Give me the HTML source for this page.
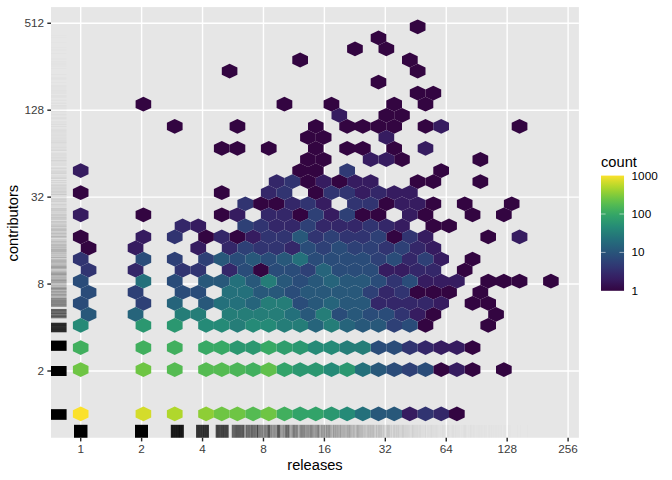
<!DOCTYPE html><html><head><meta charset="utf-8"><title>releases vs contributors</title>
<style>html,body{margin:0;padding:0;background:#fff}svg{display:block}text{font-family:"Liberation Sans",Arial,Helvetica,sans-serif}</style></head><body>
<svg width="672" height="480" viewBox="0 0 672 480">
<rect width="672" height="480" fill="#fff"/>
<rect x="51" y="7.1" width="527.9" height="430.65" fill="#e6e6e6"/>
<g stroke="#fff" stroke-width="1.42"><line x1="80.70" x2="80.70" y1="7.1" y2="437.75"/><line x1="141.62" x2="141.62" y1="7.1" y2="437.75"/><line x1="202.55" x2="202.55" y1="7.1" y2="437.75"/><line x1="263.47" x2="263.47" y1="7.1" y2="437.75"/><line x1="324.40" x2="324.40" y1="7.1" y2="437.75"/><line x1="385.32" x2="385.32" y1="7.1" y2="437.75"/><line x1="446.25" x2="446.25" y1="7.1" y2="437.75"/><line x1="507.17" x2="507.17" y1="7.1" y2="437.75"/><line x1="568.10" x2="568.10" y1="7.1" y2="437.75"/><line x1="51" x2="578.9" y1="371.01" y2="371.01"/><line x1="51" x2="578.9" y1="284.07" y2="284.07"/><line x1="51" x2="578.9" y1="197.13" y2="197.13"/><line x1="51" x2="578.9" y1="110.19" y2="110.19"/><line x1="51" x2="578.9" y1="23.25" y2="23.25"/></g>
<g id="hexes"><g fill="#330541"><polygon points="456.9,406.5 464.7,410.2 464.7,417.6 456.9,421.3 449.0,417.6 449.0,410.2"/><polygon points="441.2,362.3 449.0,366.0 449.0,373.3 441.2,377.0 433.3,373.3 433.3,366.0"/><polygon points="472.5,362.3 480.4,366.0 480.4,373.3 472.5,377.0 464.7,373.3 464.7,366.0"/><polygon points="503.9,362.3 511.7,366.0 511.7,373.3 503.9,377.0 496.0,373.3 496.0,366.0"/><polygon points="472.5,340.2 480.4,343.9 480.4,351.2 472.5,354.9 464.7,351.2 464.7,343.9"/><polygon points="425.5,318.0 433.3,321.7 433.3,329.1 425.5,332.8 417.7,329.1 417.7,321.7"/><polygon points="488.2,318.0 496.0,321.7 496.0,329.1 488.2,332.8 480.4,329.1 480.4,321.7"/><polygon points="433.3,307.0 441.2,310.7 441.2,318.0 433.3,321.7 425.5,318.0 425.5,310.7"/><polygon points="496.0,307.0 503.9,310.7 503.9,318.0 496.0,321.7 488.2,318.0 488.2,310.7"/><polygon points="472.5,295.9 480.4,299.6 480.4,307.0 472.5,310.7 464.7,307.0 464.7,299.6"/><polygon points="488.2,295.9 496.0,299.6 496.0,307.0 488.2,310.7 480.4,307.0 480.4,299.6"/><polygon points="417.7,284.9 425.5,288.6 425.5,295.9 417.7,299.6 409.8,295.9 409.8,288.6"/><polygon points="433.3,284.9 441.2,288.6 441.2,295.9 433.3,299.6 425.5,295.9 425.5,288.6"/><polygon points="449.0,284.9 456.9,288.6 456.9,295.9 449.0,299.6 441.2,295.9 441.2,288.6"/><polygon points="480.4,284.9 488.2,288.6 488.2,295.9 480.4,299.6 472.5,295.9 472.5,288.6"/><polygon points="488.2,273.8 496.0,277.5 496.0,284.9 488.2,288.6 480.4,284.9 480.4,277.5"/><polygon points="503.9,273.8 511.7,277.5 511.7,284.9 503.9,288.6 496.0,284.9 496.0,277.5"/><polygon points="519.5,273.8 527.4,277.5 527.4,284.9 519.5,288.6 511.7,284.9 511.7,277.5"/><polygon points="550.9,273.8 558.7,277.5 558.7,284.9 550.9,288.6 543.1,284.9 543.1,277.5"/><polygon points="260.9,262.7 268.8,266.4 268.8,273.8 260.9,277.5 253.1,273.8 253.1,266.4"/><polygon points="464.7,262.7 472.5,266.4 472.5,273.8 464.7,277.5 456.9,273.8 456.9,266.4"/><polygon points="472.5,251.7 480.4,255.4 480.4,262.7 472.5,266.4 464.7,262.7 464.7,255.4"/><polygon points="88.5,240.6 96.4,244.3 96.4,251.7 88.5,255.4 80.7,251.7 80.7,244.3"/><polygon points="80.7,229.6 88.5,233.3 88.5,240.6 80.7,244.3 72.9,240.6 72.9,233.3"/><polygon points="206.1,229.6 213.9,233.3 213.9,240.6 206.1,244.3 198.2,240.6 198.2,233.3"/><polygon points="237.4,229.6 245.3,233.3 245.3,240.6 237.4,244.3 229.6,240.6 229.6,233.3"/><polygon points="394.2,229.6 402.0,233.3 402.0,240.6 394.2,244.3 386.3,240.6 386.3,233.3"/><polygon points="488.2,229.6 496.0,233.3 496.0,240.6 488.2,244.3 480.4,240.6 480.4,233.3"/><polygon points="433.3,218.5 441.2,222.2 441.2,229.6 433.3,233.3 425.5,229.6 425.5,222.2"/><polygon points="449.0,218.5 456.9,222.2 456.9,229.6 449.0,233.3 441.2,229.6 441.2,222.2"/><polygon points="143.4,207.4 151.2,211.1 151.2,218.5 143.4,222.2 135.6,218.5 135.6,211.1"/><polygon points="221.8,207.4 229.6,211.1 229.6,218.5 221.8,222.2 213.9,218.5 213.9,211.1"/><polygon points="300.1,207.4 308.0,211.1 308.0,218.5 300.1,222.2 292.3,218.5 292.3,211.1"/><polygon points="362.8,207.4 370.7,211.1 370.7,218.5 362.8,222.2 355.0,218.5 355.0,211.1"/><polygon points="378.5,207.4 386.3,211.1 386.3,218.5 378.5,222.2 370.7,218.5 370.7,211.1"/><polygon points="425.5,207.4 433.3,211.1 433.3,218.5 425.5,222.2 417.7,218.5 417.7,211.1"/><polygon points="472.5,207.4 480.4,211.1 480.4,218.5 472.5,222.2 464.7,218.5 464.7,211.1"/><polygon points="503.9,207.4 511.7,211.1 511.7,218.5 503.9,222.2 496.0,218.5 496.0,211.1"/><polygon points="260.9,196.4 268.8,200.1 268.8,207.4 260.9,211.1 253.1,207.4 253.1,200.1"/><polygon points="276.6,196.4 284.4,200.1 284.4,207.4 276.6,211.1 268.8,207.4 268.8,200.1"/><polygon points="386.3,196.4 394.2,200.1 394.2,207.4 386.3,211.1 378.5,207.4 378.5,200.1"/><polygon points="433.3,196.4 441.2,200.1 441.2,207.4 433.3,211.1 425.5,207.4 425.5,200.1"/><polygon points="464.7,196.4 472.5,200.1 472.5,207.4 464.7,211.1 456.9,207.4 456.9,200.1"/><polygon points="511.7,196.4 519.5,200.1 519.5,207.4 511.7,211.1 503.9,207.4 503.9,200.1"/><polygon points="80.7,185.3 88.5,189.0 88.5,196.4 80.7,200.1 72.9,196.4 72.9,189.0"/><polygon points="221.8,185.3 229.6,189.0 229.6,196.4 221.8,200.1 213.9,196.4 213.9,189.0"/><polygon points="315.8,185.3 323.6,189.0 323.6,196.4 315.8,200.1 308.0,196.4 308.0,189.0"/><polygon points="308.0,174.3 315.8,178.0 315.8,185.3 308.0,189.0 300.1,185.3 300.1,178.0"/><polygon points="339.3,174.3 347.1,178.0 347.1,185.3 339.3,189.0 331.5,185.3 331.5,178.0"/><polygon points="417.7,174.3 425.5,178.0 425.5,185.3 417.7,189.0 409.8,185.3 409.8,178.0"/><polygon points="433.3,174.3 441.2,178.0 441.2,185.3 433.3,189.0 425.5,185.3 425.5,178.0"/><polygon points="480.4,174.3 488.2,178.0 488.2,185.3 480.4,189.0 472.5,185.3 472.5,178.0"/><polygon points="300.1,163.2 308.0,166.9 308.0,174.3 300.1,178.0 292.3,174.3 292.3,166.9"/><polygon points="315.8,163.2 323.6,166.9 323.6,174.3 315.8,178.0 308.0,174.3 308.0,166.9"/><polygon points="441.2,163.2 449.0,166.9 449.0,174.3 441.2,178.0 433.3,174.3 433.3,166.9"/><polygon points="308.0,152.1 315.8,155.8 315.8,163.2 308.0,166.9 300.1,163.2 300.1,155.8"/><polygon points="323.6,152.1 331.5,155.8 331.5,163.2 323.6,166.9 315.8,163.2 315.8,155.8"/><polygon points="402.0,152.1 409.8,155.8 409.8,163.2 402.0,166.9 394.2,163.2 394.2,155.8"/><polygon points="480.4,152.1 488.2,155.8 488.2,163.2 480.4,166.9 472.5,163.2 472.5,155.8"/><polygon points="221.8,141.1 229.6,144.8 229.6,152.1 221.8,155.8 213.9,152.1 213.9,144.8"/><polygon points="237.4,141.1 245.3,144.8 245.3,152.1 237.4,155.8 229.6,152.1 229.6,144.8"/><polygon points="268.8,141.1 276.6,144.8 276.6,152.1 268.8,155.8 260.9,152.1 260.9,144.8"/><polygon points="315.8,141.1 323.6,144.8 323.6,152.1 315.8,155.8 308.0,152.1 308.0,144.8"/><polygon points="347.1,141.1 355.0,144.8 355.0,152.1 347.1,155.8 339.3,152.1 339.3,144.8"/><polygon points="362.8,141.1 370.7,144.8 370.7,152.1 362.8,155.8 355.0,152.1 355.0,144.8"/><polygon points="394.2,141.1 402.0,144.8 402.0,152.1 394.2,155.8 386.3,152.1 386.3,144.8"/><polygon points="308.0,130.0 315.8,133.7 315.8,141.1 308.0,144.8 300.1,141.1 300.1,133.7"/><polygon points="323.6,130.0 331.5,133.7 331.5,141.1 323.6,144.8 315.8,141.1 315.8,133.7"/><polygon points="174.7,119.0 182.6,122.7 182.6,130.0 174.7,133.7 166.9,130.0 166.9,122.7"/><polygon points="237.4,119.0 245.3,122.7 245.3,130.0 237.4,133.7 229.6,130.0 229.6,122.7"/><polygon points="315.8,119.0 323.6,122.7 323.6,130.0 315.8,133.7 308.0,130.0 308.0,122.7"/><polygon points="347.1,119.0 355.0,122.7 355.0,130.0 347.1,133.7 339.3,130.0 339.3,122.7"/><polygon points="362.8,119.0 370.7,122.7 370.7,130.0 362.8,133.7 355.0,130.0 355.0,122.7"/><polygon points="378.5,119.0 386.3,122.7 386.3,130.0 378.5,133.7 370.7,130.0 370.7,122.7"/><polygon points="394.2,119.0 402.0,122.7 402.0,130.0 394.2,133.7 386.3,130.0 386.3,122.7"/><polygon points="425.5,119.0 433.3,122.7 433.3,130.0 425.5,133.7 417.7,130.0 417.7,122.7"/><polygon points="519.5,119.0 527.4,122.7 527.4,130.0 519.5,133.7 511.7,130.0 511.7,122.7"/><polygon points="386.3,107.9 394.2,111.6 394.2,119.0 386.3,122.7 378.5,119.0 378.5,111.6"/><polygon points="402.0,107.9 409.8,111.6 409.8,119.0 402.0,122.7 394.2,119.0 394.2,111.6"/><polygon points="143.4,96.8 151.2,100.5 151.2,107.9 143.4,111.6 135.6,107.9 135.6,100.5"/><polygon points="284.4,96.8 292.3,100.5 292.3,107.9 284.4,111.6 276.6,107.9 276.6,100.5"/><polygon points="331.5,96.8 339.3,100.5 339.3,107.9 331.5,111.6 323.6,107.9 323.6,100.5"/><polygon points="394.2,96.8 402.0,100.5 402.0,107.9 394.2,111.6 386.3,107.9 386.3,100.5"/><polygon points="425.5,96.8 433.3,100.5 433.3,107.9 425.5,111.6 417.7,107.9 417.7,100.5"/><polygon points="417.7,85.8 425.5,89.5 425.5,96.8 417.7,100.5 409.8,96.8 409.8,89.5"/><polygon points="433.3,85.8 441.2,89.5 441.2,96.8 433.3,100.5 425.5,96.8 425.5,89.5"/><polygon points="378.5,74.7 386.3,78.4 386.3,85.8 378.5,89.5 370.7,85.8 370.7,78.4"/><polygon points="229.6,63.7 237.4,67.4 237.4,74.7 229.6,78.4 221.8,74.7 221.8,67.4"/><polygon points="417.7,63.7 425.5,67.4 425.5,74.7 417.7,78.4 409.8,74.7 409.8,67.4"/><polygon points="300.1,52.6 308.0,56.3 308.0,63.7 300.1,67.4 292.3,63.7 292.3,56.3"/><polygon points="409.8,52.6 417.7,56.3 417.7,63.7 409.8,67.4 402.0,63.7 402.0,56.3"/><polygon points="355.0,41.5 362.8,45.2 362.8,52.6 355.0,56.3 347.1,52.6 347.1,45.2"/><polygon points="386.3,41.5 394.2,45.2 394.2,52.6 386.3,56.3 378.5,52.6 378.5,45.2"/><polygon points="378.5,30.5 386.3,34.2 386.3,41.5 378.5,45.2 370.7,41.5 370.7,34.2"/><polygon points="417.7,19.4 425.5,23.1 425.5,30.5 417.7,34.2 409.8,30.5 409.8,23.1"/></g><g fill="#361c60"><polygon points="409.8,406.5 417.7,410.2 417.7,417.6 409.8,421.3 402.0,417.6 402.0,410.2"/><polygon points="456.9,362.3 464.7,366.0 464.7,373.3 456.9,377.0 449.0,373.3 449.0,366.0"/><polygon points="441.2,340.2 449.0,343.9 449.0,351.2 441.2,354.9 433.3,351.2 433.3,343.9"/><polygon points="456.9,340.2 464.7,343.9 464.7,351.2 456.9,354.9 449.0,351.2 449.0,343.9"/><polygon points="417.7,307.0 425.5,310.7 425.5,318.0 417.7,321.7 409.8,318.0 409.8,310.7"/><polygon points="441.2,295.9 449.0,299.6 449.0,307.0 441.2,310.7 433.3,307.0 433.3,299.6"/><polygon points="425.5,273.8 433.3,277.5 433.3,284.9 425.5,288.6 417.7,284.9 417.7,277.5"/><polygon points="441.2,273.8 449.0,277.5 449.0,284.9 441.2,288.6 433.3,284.9 433.3,277.5"/><polygon points="456.9,273.8 464.7,277.5 464.7,284.9 456.9,288.6 449.0,284.9 449.0,277.5"/><polygon points="386.3,262.7 394.2,266.4 394.2,273.8 386.3,277.5 378.5,273.8 378.5,266.4"/><polygon points="402.0,262.7 409.8,266.4 409.8,273.8 402.0,277.5 394.2,273.8 394.2,266.4"/><polygon points="441.2,251.7 449.0,255.4 449.0,262.7 441.2,266.4 433.3,262.7 433.3,255.4"/><polygon points="135.6,240.6 143.4,244.3 143.4,251.7 135.6,255.4 127.7,251.7 127.7,244.3"/><polygon points="198.2,240.6 206.1,244.3 206.1,251.7 198.2,255.4 190.4,251.7 190.4,244.3"/><polygon points="433.3,240.6 441.2,244.3 441.2,251.7 433.3,255.4 425.5,251.7 425.5,244.3"/><polygon points="143.4,229.6 151.2,233.3 151.2,240.6 143.4,244.3 135.6,240.6 135.6,233.3"/><polygon points="253.1,229.6 260.9,233.3 260.9,240.6 253.1,244.3 245.3,240.6 245.3,233.3"/><polygon points="425.5,229.6 433.3,233.3 433.3,240.6 425.5,244.3 417.7,240.6 417.7,233.3"/><polygon points="519.5,229.6 527.4,233.3 527.4,240.6 519.5,244.3 511.7,240.6 511.7,233.3"/><polygon points="198.2,218.5 206.1,222.2 206.1,229.6 198.2,233.3 190.4,229.6 190.4,222.2"/><polygon points="402.0,218.5 409.8,222.2 409.8,229.6 402.0,233.3 394.2,229.6 394.2,222.2"/><polygon points="80.7,207.4 88.5,211.1 88.5,218.5 80.7,222.2 72.9,218.5 72.9,211.1"/><polygon points="237.4,207.4 245.3,211.1 245.3,218.5 237.4,222.2 229.6,218.5 229.6,211.1"/><polygon points="331.5,207.4 339.3,211.1 339.3,218.5 331.5,222.2 323.6,218.5 323.6,211.1"/><polygon points="409.8,207.4 417.7,211.1 417.7,218.5 409.8,222.2 402.0,218.5 402.0,211.1"/><polygon points="323.6,196.4 331.5,200.1 331.5,207.4 323.6,211.1 315.8,207.4 315.8,200.1"/><polygon points="402.0,196.4 409.8,200.1 409.8,207.4 402.0,211.1 394.2,207.4 394.2,200.1"/><polygon points="417.7,196.4 425.5,200.1 425.5,207.4 417.7,211.1 409.8,207.4 409.8,200.1"/><polygon points="362.8,185.3 370.7,189.0 370.7,196.4 362.8,200.1 355.0,196.4 355.0,189.0"/><polygon points="394.2,185.3 402.0,189.0 402.0,196.4 394.2,200.1 386.3,196.4 386.3,189.0"/><polygon points="409.8,185.3 417.7,189.0 417.7,196.4 409.8,200.1 402.0,196.4 402.0,189.0"/><polygon points="323.6,174.3 331.5,178.0 331.5,185.3 323.6,189.0 315.8,185.3 315.8,178.0"/><polygon points="355.0,174.3 362.8,178.0 362.8,185.3 355.0,189.0 347.1,185.3 347.1,178.0"/><polygon points="370.7,174.3 378.5,178.0 378.5,185.3 370.7,189.0 362.8,185.3 362.8,178.0"/><polygon points="80.7,163.2 88.5,166.9 88.5,174.3 80.7,178.0 72.9,174.3 72.9,166.9"/><polygon points="370.7,152.1 378.5,155.8 378.5,163.2 370.7,166.9 362.8,163.2 362.8,155.8"/><polygon points="386.3,152.1 394.2,155.8 394.2,163.2 386.3,166.9 378.5,163.2 378.5,155.8"/><polygon points="425.5,141.1 433.3,144.8 433.3,152.1 425.5,155.8 417.7,152.1 417.7,144.8"/><polygon points="386.3,130.0 394.2,133.7 394.2,141.1 386.3,144.8 378.5,141.1 378.5,133.7"/><polygon points="441.2,119.0 449.0,122.7 449.0,130.0 441.2,133.7 433.3,130.0 433.3,122.7"/><polygon points="339.3,107.9 347.1,111.6 347.1,119.0 339.3,122.7 331.5,119.0 331.5,111.6"/></g><g fill="#342769"><polygon points="441.2,406.5 449.0,410.2 449.0,417.6 441.2,421.3 433.3,417.6 433.3,410.2"/><polygon points="425.5,340.2 433.3,343.9 433.3,351.2 425.5,354.9 417.7,351.2 417.7,343.9"/><polygon points="378.5,295.9 386.3,299.6 386.3,307.0 378.5,310.7 370.7,307.0 370.7,299.6"/><polygon points="394.2,295.9 402.0,299.6 402.0,307.0 394.2,310.7 386.3,307.0 386.3,299.6"/><polygon points="409.8,295.9 417.7,299.6 417.7,307.0 409.8,310.7 402.0,307.0 402.0,299.6"/><polygon points="425.5,295.9 433.3,299.6 433.3,307.0 425.5,310.7 417.7,307.0 417.7,299.6"/><polygon points="386.3,284.9 394.2,288.6 394.2,295.9 386.3,299.6 378.5,295.9 378.5,288.6"/><polygon points="135.6,262.7 143.4,266.4 143.4,273.8 135.6,277.5 127.7,273.8 127.7,266.4"/><polygon points="229.6,262.7 237.4,266.4 237.4,273.8 229.6,277.5 221.8,273.8 221.8,266.4"/><polygon points="417.7,262.7 425.5,266.4 425.5,273.8 417.7,277.5 409.8,273.8 409.8,266.4"/><polygon points="433.3,262.7 441.2,266.4 441.2,273.8 433.3,277.5 425.5,273.8 425.5,266.4"/><polygon points="409.8,251.7 417.7,255.4 417.7,262.7 409.8,266.4 402.0,262.7 402.0,255.4"/><polygon points="229.6,240.6 237.4,244.3 237.4,251.7 229.6,255.4 221.8,251.7 221.8,244.3"/><polygon points="292.3,240.6 300.1,244.3 300.1,251.7 292.3,255.4 284.4,251.7 284.4,244.3"/><polygon points="417.7,240.6 425.5,244.3 425.5,251.7 417.7,255.4 409.8,251.7 409.8,244.3"/><polygon points="221.8,229.6 229.6,233.3 229.6,240.6 221.8,244.3 213.9,240.6 213.9,233.3"/><polygon points="182.6,218.5 190.4,222.2 190.4,229.6 182.6,233.3 174.7,229.6 174.7,222.2"/><polygon points="276.6,218.5 284.4,222.2 284.4,229.6 276.6,233.3 268.8,229.6 268.8,222.2"/><polygon points="292.3,218.5 300.1,222.2 300.1,229.6 292.3,233.3 284.4,229.6 284.4,222.2"/><polygon points="323.6,218.5 331.5,222.2 331.5,229.6 323.6,233.3 315.8,229.6 315.8,222.2"/><polygon points="339.3,218.5 347.1,222.2 347.1,229.6 339.3,233.3 331.5,229.6 331.5,222.2"/><polygon points="355.0,218.5 362.8,222.2 362.8,229.6 355.0,233.3 347.1,229.6 347.1,222.2"/><polygon points="386.3,218.5 394.2,222.2 394.2,229.6 386.3,233.3 378.5,229.6 378.5,222.2"/><polygon points="268.8,207.4 276.6,211.1 276.6,218.5 268.8,222.2 260.9,218.5 260.9,211.1"/><polygon points="284.4,207.4 292.3,211.1 292.3,218.5 284.4,222.2 276.6,218.5 276.6,211.1"/><polygon points="292.3,196.4 300.1,200.1 300.1,207.4 292.3,211.1 284.4,207.4 284.4,200.1"/><polygon points="268.8,185.3 276.6,189.0 276.6,196.4 268.8,200.1 260.9,196.4 260.9,189.0"/><polygon points="378.5,185.3 386.3,189.0 386.3,196.4 378.5,200.1 370.7,196.4 370.7,189.0"/><polygon points="276.6,174.3 284.4,178.0 284.4,185.3 276.6,189.0 268.8,185.3 268.8,178.0"/></g><g fill="#313471"><polygon points="425.5,406.5 433.3,410.2 433.3,417.6 425.5,421.3 417.7,417.6 417.7,410.2"/><polygon points="409.8,340.2 417.7,343.9 417.7,351.2 409.8,354.9 402.0,351.2 402.0,343.9"/><polygon points="402.0,307.0 409.8,310.7 409.8,318.0 402.0,321.7 394.2,318.0 394.2,310.7"/><polygon points="402.0,284.9 409.8,288.6 409.8,295.9 402.0,299.6 394.2,295.9 394.2,288.6"/><polygon points="394.2,273.8 402.0,277.5 402.0,284.9 394.2,288.6 386.3,284.9 386.3,277.5"/><polygon points="88.5,262.7 96.4,266.4 96.4,273.8 88.5,277.5 80.7,273.8 80.7,266.4"/><polygon points="182.6,262.7 190.4,266.4 190.4,273.8 182.6,277.5 174.7,273.8 174.7,266.4"/><polygon points="198.2,262.7 206.1,266.4 206.1,273.8 198.2,277.5 190.4,273.8 190.4,266.4"/><polygon points="80.7,251.7 88.5,255.4 88.5,262.7 80.7,266.4 72.9,262.7 72.9,255.4"/><polygon points="260.9,240.6 268.8,244.3 268.8,251.7 260.9,255.4 253.1,251.7 253.1,244.3"/><polygon points="276.6,240.6 284.4,244.3 284.4,251.7 276.6,255.4 268.8,251.7 268.8,244.3"/><polygon points="386.3,240.6 394.2,244.3 394.2,251.7 386.3,255.4 378.5,251.7 378.5,244.3"/><polygon points="174.7,229.6 182.6,233.3 182.6,240.6 174.7,244.3 166.9,240.6 166.9,233.3"/><polygon points="268.8,229.6 276.6,233.3 276.6,240.6 268.8,244.3 260.9,240.6 260.9,233.3"/><polygon points="284.4,229.6 292.3,233.3 292.3,240.6 284.4,244.3 276.6,240.6 276.6,233.3"/><polygon points="315.8,229.6 323.6,233.3 323.6,240.6 315.8,244.3 308.0,240.6 308.0,233.3"/><polygon points="347.1,229.6 355.0,233.3 355.0,240.6 347.1,244.3 339.3,240.6 339.3,233.3"/><polygon points="362.8,229.6 370.7,233.3 370.7,240.6 362.8,244.3 355.0,240.6 355.0,233.3"/><polygon points="409.8,229.6 417.7,233.3 417.7,240.6 409.8,244.3 402.0,240.6 402.0,233.3"/><polygon points="260.9,218.5 268.8,222.2 268.8,229.6 260.9,233.3 253.1,229.6 253.1,222.2"/><polygon points="370.7,218.5 378.5,222.2 378.5,229.6 370.7,233.3 362.8,229.6 362.8,222.2"/><polygon points="245.3,196.4 253.1,200.1 253.1,207.4 245.3,211.1 237.4,207.4 237.4,200.1"/><polygon points="308.0,196.4 315.8,200.1 315.8,207.4 308.0,211.1 300.1,207.4 300.1,200.1"/><polygon points="355.0,196.4 362.8,200.1 362.8,207.4 355.0,211.1 347.1,207.4 347.1,200.1"/><polygon points="370.7,196.4 378.5,200.1 378.5,207.4 370.7,211.1 362.8,207.4 362.8,200.1"/><polygon points="284.4,185.3 292.3,189.0 292.3,196.4 284.4,200.1 276.6,196.4 276.6,189.0"/><polygon points="331.5,185.3 339.3,189.0 339.3,196.4 331.5,200.1 323.6,196.4 323.6,189.0"/><polygon points="347.1,185.3 355.0,189.0 355.0,196.4 347.1,200.1 339.3,196.4 339.3,189.0"/><polygon points="292.3,174.3 300.1,178.0 300.1,185.3 292.3,189.0 284.4,185.3 284.4,178.0"/></g><g fill="#303a75"><polygon points="347.1,163.2 355.0,166.9 355.0,174.3 347.1,178.0 339.3,174.3 339.3,166.9"/></g><g fill="#2e4076"><polygon points="409.8,362.3 417.7,366.0 417.7,373.3 409.8,377.0 402.0,373.3 402.0,366.0"/><polygon points="394.2,318.0 402.0,321.7 402.0,329.1 394.2,332.8 386.3,329.1 386.3,321.7"/><polygon points="143.4,295.9 151.2,299.6 151.2,307.0 143.4,310.7 135.6,307.0 135.6,299.6"/><polygon points="135.6,284.9 143.4,288.6 143.4,295.9 135.6,299.6 127.7,295.9 127.7,288.6"/><polygon points="370.7,284.9 378.5,288.6 378.5,295.9 370.7,299.6 362.8,295.9 362.8,288.6"/><polygon points="308.0,262.7 315.8,266.4 315.8,273.8 308.0,277.5 300.1,273.8 300.1,266.4"/><polygon points="174.7,251.7 182.6,255.4 182.6,262.7 174.7,266.4 166.9,262.7 166.9,255.4"/><polygon points="206.1,251.7 213.9,255.4 213.9,262.7 206.1,266.4 198.2,262.7 198.2,255.4"/><polygon points="378.5,251.7 386.3,255.4 386.3,262.7 378.5,266.4 370.7,262.7 370.7,255.4"/><polygon points="425.5,251.7 433.3,255.4 433.3,262.7 425.5,266.4 417.7,262.7 417.7,255.4"/><polygon points="245.3,240.6 253.1,244.3 253.1,251.7 245.3,255.4 237.4,251.7 237.4,244.3"/><polygon points="323.6,240.6 331.5,244.3 331.5,251.7 323.6,255.4 315.8,251.7 315.8,244.3"/><polygon points="355.0,240.6 362.8,244.3 362.8,251.7 355.0,255.4 347.1,251.7 347.1,244.3"/><polygon points="370.7,240.6 378.5,244.3 378.5,251.7 370.7,255.4 362.8,251.7 362.8,244.3"/><polygon points="402.0,240.6 409.8,244.3 409.8,251.7 402.0,255.4 394.2,251.7 394.2,244.3"/><polygon points="331.5,229.6 339.3,233.3 339.3,240.6 331.5,244.3 323.6,240.6 323.6,233.3"/><polygon points="378.5,229.6 386.3,233.3 386.3,240.6 378.5,244.3 370.7,240.6 370.7,233.3"/><polygon points="245.3,218.5 253.1,222.2 253.1,229.6 245.3,233.3 237.4,229.6 237.4,222.2"/><polygon points="308.0,218.5 315.8,222.2 315.8,229.6 308.0,233.3 300.1,229.6 300.1,222.2"/><polygon points="315.8,207.4 323.6,211.1 323.6,218.5 315.8,222.2 308.0,218.5 308.0,211.1"/><polygon points="347.1,207.4 355.0,211.1 355.0,218.5 347.1,222.2 339.3,218.5 339.3,211.1"/></g><g fill="#2a4c79"><polygon points="394.2,362.3 402.0,366.0 402.0,373.3 394.2,377.0 386.3,373.3 386.3,366.0"/><polygon points="425.5,362.3 433.3,366.0 433.3,373.3 425.5,377.0 417.7,373.3 417.7,366.0"/><polygon points="378.5,340.2 386.3,343.9 386.3,351.2 378.5,354.9 370.7,351.2 370.7,343.9"/><polygon points="394.2,340.2 402.0,343.9 402.0,351.2 394.2,354.9 386.3,351.2 386.3,343.9"/><polygon points="409.8,318.0 417.7,321.7 417.7,329.1 409.8,332.8 402.0,329.1 402.0,321.7"/><polygon points="339.3,307.0 347.1,310.7 347.1,318.0 339.3,321.7 331.5,318.0 331.5,310.7"/><polygon points="370.7,307.0 378.5,310.7 378.5,318.0 370.7,321.7 362.8,318.0 362.8,310.7"/><polygon points="386.3,307.0 394.2,310.7 394.2,318.0 386.3,321.7 378.5,318.0 378.5,310.7"/><polygon points="80.7,295.9 88.5,299.6 88.5,307.0 80.7,310.7 72.9,307.0 72.9,299.6"/><polygon points="300.1,295.9 308.0,299.6 308.0,307.0 300.1,310.7 292.3,307.0 292.3,299.6"/><polygon points="88.5,284.9 96.4,288.6 96.4,295.9 88.5,299.6 80.7,295.9 80.7,288.6"/><polygon points="182.6,284.9 190.4,288.6 190.4,295.9 182.6,299.6 174.7,295.9 174.7,288.6"/><polygon points="198.2,284.9 206.1,288.6 206.1,295.9 198.2,299.6 190.4,295.9 190.4,288.6"/><polygon points="292.3,284.9 300.1,288.6 300.1,295.9 292.3,299.6 284.4,295.9 284.4,288.6"/><polygon points="80.7,273.8 88.5,277.5 88.5,284.9 80.7,288.6 72.9,284.9 72.9,277.5"/><polygon points="174.7,273.8 182.6,277.5 182.6,284.9 174.7,288.6 166.9,284.9 166.9,277.5"/><polygon points="300.1,273.8 308.0,277.5 308.0,284.9 300.1,288.6 292.3,284.9 292.3,277.5"/><polygon points="378.5,273.8 386.3,277.5 386.3,284.9 378.5,288.6 370.7,284.9 370.7,277.5"/><polygon points="409.8,273.8 417.7,277.5 417.7,284.9 409.8,288.6 402.0,284.9 402.0,277.5"/><polygon points="245.3,262.7 253.1,266.4 253.1,273.8 245.3,277.5 237.4,273.8 237.4,266.4"/><polygon points="276.6,262.7 284.4,266.4 284.4,273.8 276.6,277.5 268.8,273.8 268.8,266.4"/><polygon points="292.3,262.7 300.1,266.4 300.1,273.8 292.3,277.5 284.4,273.8 284.4,266.4"/><polygon points="339.3,262.7 347.1,266.4 347.1,273.8 339.3,277.5 331.5,273.8 331.5,266.4"/><polygon points="355.0,262.7 362.8,266.4 362.8,273.8 355.0,277.5 347.1,273.8 347.1,266.4"/><polygon points="370.7,262.7 378.5,266.4 378.5,273.8 370.7,277.5 362.8,273.8 362.8,266.4"/><polygon points="143.4,251.7 151.2,255.4 151.2,262.7 143.4,266.4 135.6,262.7 135.6,255.4"/><polygon points="237.4,251.7 245.3,255.4 245.3,262.7 237.4,266.4 229.6,262.7 229.6,255.4"/><polygon points="268.8,251.7 276.6,255.4 276.6,262.7 268.8,266.4 260.9,262.7 260.9,255.4"/><polygon points="315.8,251.7 323.6,255.4 323.6,262.7 315.8,266.4 308.0,262.7 308.0,255.4"/><polygon points="331.5,251.7 339.3,255.4 339.3,262.7 331.5,266.4 323.6,262.7 323.6,255.4"/><polygon points="347.1,251.7 355.0,255.4 355.0,262.7 347.1,266.4 339.3,262.7 339.3,255.4"/><polygon points="362.8,251.7 370.7,255.4 370.7,262.7 362.8,266.4 355.0,262.7 355.0,255.4"/><polygon points="394.2,251.7 402.0,255.4 402.0,262.7 394.2,266.4 386.3,262.7 386.3,255.4"/><polygon points="308.0,240.6 315.8,244.3 315.8,251.7 308.0,255.4 300.1,251.7 300.1,244.3"/><polygon points="339.3,240.6 347.1,244.3 347.1,251.7 339.3,255.4 331.5,251.7 331.5,244.3"/></g><g fill="#28587a"><polygon points="378.5,406.5 386.3,410.2 386.3,417.6 378.5,421.3 370.7,417.6 370.7,410.2"/><polygon points="394.2,406.5 402.0,410.2 402.0,417.6 394.2,421.3 386.3,417.6 386.3,410.2"/><polygon points="378.5,362.3 386.3,366.0 386.3,373.3 378.5,377.0 370.7,373.3 370.7,366.0"/><polygon points="362.8,318.0 370.7,321.7 370.7,329.1 362.8,332.8 355.0,329.1 355.0,321.7"/><polygon points="378.5,318.0 386.3,321.7 386.3,329.1 378.5,332.8 370.7,329.1 370.7,321.7"/><polygon points="88.5,307.0 96.4,310.7 96.4,318.0 88.5,321.7 80.7,318.0 80.7,310.7"/><polygon points="308.0,307.0 315.8,310.7 315.8,318.0 308.0,321.7 300.1,318.0 300.1,310.7"/><polygon points="355.0,307.0 362.8,310.7 362.8,318.0 355.0,321.7 347.1,318.0 347.1,310.7"/><polygon points="206.1,295.9 213.9,299.6 213.9,307.0 206.1,310.7 198.2,307.0 198.2,299.6"/><polygon points="315.8,295.9 323.6,299.6 323.6,307.0 315.8,310.7 308.0,307.0 308.0,299.6"/><polygon points="347.1,295.9 355.0,299.6 355.0,307.0 347.1,310.7 339.3,307.0 339.3,299.6"/><polygon points="362.8,295.9 370.7,299.6 370.7,307.0 362.8,310.7 355.0,307.0 355.0,299.6"/><polygon points="260.9,284.9 268.8,288.6 268.8,295.9 260.9,299.6 253.1,295.9 253.1,288.6"/><polygon points="276.6,284.9 284.4,288.6 284.4,295.9 276.6,299.6 268.8,295.9 268.8,288.6"/><polygon points="308.0,284.9 315.8,288.6 315.8,295.9 308.0,299.6 300.1,295.9 300.1,288.6"/><polygon points="323.6,284.9 331.5,288.6 331.5,295.9 323.6,299.6 315.8,295.9 315.8,288.6"/><polygon points="339.3,284.9 347.1,288.6 347.1,295.9 339.3,299.6 331.5,295.9 331.5,288.6"/><polygon points="355.0,284.9 362.8,288.6 362.8,295.9 355.0,299.6 347.1,295.9 347.1,288.6"/><polygon points="206.1,273.8 213.9,277.5 213.9,284.9 206.1,288.6 198.2,284.9 198.2,277.5"/><polygon points="221.8,273.8 229.6,277.5 229.6,284.9 221.8,288.6 213.9,284.9 213.9,277.5"/><polygon points="253.1,273.8 260.9,277.5 260.9,284.9 253.1,288.6 245.3,284.9 245.3,277.5"/><polygon points="284.4,273.8 292.3,277.5 292.3,284.9 284.4,288.6 276.6,284.9 276.6,277.5"/><polygon points="315.8,273.8 323.6,277.5 323.6,284.9 315.8,288.6 308.0,284.9 308.0,277.5"/><polygon points="347.1,273.8 355.0,277.5 355.0,284.9 347.1,288.6 339.3,284.9 339.3,277.5"/><polygon points="362.8,273.8 370.7,277.5 370.7,284.9 362.8,288.6 355.0,284.9 355.0,277.5"/><polygon points="221.8,251.7 229.6,255.4 229.6,262.7 221.8,266.4 213.9,262.7 213.9,255.4"/><polygon points="253.1,251.7 260.9,255.4 260.9,262.7 253.1,266.4 245.3,262.7 245.3,255.4"/><polygon points="284.4,251.7 292.3,255.4 292.3,262.7 284.4,266.4 276.6,262.7 276.6,255.4"/><polygon points="300.1,229.6 308.0,233.3 308.0,240.6 300.1,244.3 292.3,240.6 292.3,233.3"/></g><g fill="#26647b"><polygon points="315.8,318.0 323.6,321.7 323.6,329.1 315.8,332.8 308.0,329.1 308.0,321.7"/><polygon points="347.1,318.0 355.0,321.7 355.0,329.1 347.1,332.8 339.3,329.1 339.3,321.7"/><polygon points="135.6,307.0 143.4,310.7 143.4,318.0 135.6,321.7 127.7,318.0 127.7,310.7"/><polygon points="174.7,295.9 182.6,299.6 182.6,307.0 174.7,310.7 166.9,307.0 166.9,299.6"/><polygon points="253.1,295.9 260.9,299.6 260.9,307.0 253.1,310.7 245.3,307.0 245.3,299.6"/><polygon points="331.5,295.9 339.3,299.6 339.3,307.0 331.5,310.7 323.6,307.0 323.6,299.6"/><polygon points="331.5,273.8 339.3,277.5 339.3,284.9 331.5,288.6 323.6,284.9 323.6,277.5"/><polygon points="323.6,262.7 331.5,266.4 331.5,273.8 323.6,277.5 315.8,273.8 315.8,266.4"/></g><g fill="#24707b"><polygon points="362.8,406.5 370.7,410.2 370.7,417.6 362.8,421.3 355.0,417.6 355.0,410.2"/><polygon points="362.8,362.3 370.7,366.0 370.7,373.3 362.8,377.0 355.0,373.3 355.0,366.0"/><polygon points="292.3,307.0 300.1,310.7 300.1,318.0 292.3,321.7 284.4,318.0 284.4,310.7"/><polygon points="221.8,295.9 229.6,299.6 229.6,307.0 221.8,310.7 213.9,307.0 213.9,299.6"/><polygon points="237.4,295.9 245.3,299.6 245.3,307.0 237.4,310.7 229.6,307.0 229.6,299.6"/><polygon points="229.6,284.9 237.4,288.6 237.4,295.9 229.6,299.6 221.8,295.9 221.8,288.6"/><polygon points="245.3,284.9 253.1,288.6 253.1,295.9 245.3,299.6 237.4,295.9 237.4,288.6"/><polygon points="143.4,273.8 151.2,277.5 151.2,284.9 143.4,288.6 135.6,284.9 135.6,277.5"/><polygon points="237.4,273.8 245.3,277.5 245.3,284.9 237.4,288.6 229.6,284.9 229.6,277.5"/><polygon points="300.1,251.7 308.0,255.4 308.0,262.7 300.1,266.4 292.3,262.7 292.3,255.4"/></g><g fill="#257d78"><polygon points="347.1,340.2 355.0,343.9 355.0,351.2 347.1,354.9 339.3,351.2 339.3,343.9"/><polygon points="362.8,340.2 370.7,343.9 370.7,351.2 362.8,354.9 355.0,351.2 355.0,343.9"/><polygon points="237.4,318.0 245.3,321.7 245.3,329.1 237.4,332.8 229.6,329.1 229.6,321.7"/><polygon points="284.4,318.0 292.3,321.7 292.3,329.1 284.4,332.8 276.6,329.1 276.6,321.7"/><polygon points="300.1,318.0 308.0,321.7 308.0,329.1 300.1,332.8 292.3,329.1 292.3,321.7"/><polygon points="331.5,318.0 339.3,321.7 339.3,329.1 331.5,332.8 323.6,329.1 323.6,321.7"/><polygon points="182.6,307.0 190.4,310.7 190.4,318.0 182.6,321.7 174.7,318.0 174.7,310.7"/><polygon points="198.2,307.0 206.1,310.7 206.1,318.0 198.2,321.7 190.4,318.0 190.4,310.7"/><polygon points="229.6,307.0 237.4,310.7 237.4,318.0 229.6,321.7 221.8,318.0 221.8,310.7"/><polygon points="245.3,307.0 253.1,310.7 253.1,318.0 245.3,321.7 237.4,318.0 237.4,310.7"/><polygon points="260.9,307.0 268.8,310.7 268.8,318.0 260.9,321.7 253.1,318.0 253.1,310.7"/><polygon points="276.6,307.0 284.4,310.7 284.4,318.0 276.6,321.7 268.8,318.0 268.8,310.7"/><polygon points="323.6,307.0 331.5,310.7 331.5,318.0 323.6,321.7 315.8,318.0 315.8,310.7"/><polygon points="268.8,295.9 276.6,299.6 276.6,307.0 268.8,310.7 260.9,307.0 260.9,299.6"/><polygon points="284.4,295.9 292.3,299.6 292.3,307.0 284.4,310.7 276.6,307.0 276.6,299.6"/><polygon points="268.8,273.8 276.6,277.5 276.6,284.9 268.8,288.6 260.9,284.9 260.9,277.5"/></g><g fill="#258a77"><polygon points="347.1,406.5 355.0,410.2 355.0,417.6 347.1,421.3 339.3,417.6 339.3,410.2"/><polygon points="331.5,362.3 339.3,366.0 339.3,373.3 331.5,377.0 323.6,373.3 323.6,366.0"/><polygon points="315.8,340.2 323.6,343.9 323.6,351.2 315.8,354.9 308.0,351.2 308.0,343.9"/><polygon points="331.5,340.2 339.3,343.9 339.3,351.2 331.5,354.9 323.6,351.2 323.6,343.9"/><polygon points="80.7,318.0 88.5,321.7 88.5,329.1 80.7,332.8 72.9,329.1 72.9,321.7"/><polygon points="206.1,318.0 213.9,321.7 213.9,329.1 206.1,332.8 198.2,329.1 198.2,321.7"/><polygon points="221.8,318.0 229.6,321.7 229.6,329.1 221.8,332.8 213.9,329.1 213.9,321.7"/><polygon points="253.1,318.0 260.9,321.7 260.9,329.1 253.1,332.8 245.3,329.1 245.3,321.7"/><polygon points="268.8,318.0 276.6,321.7 276.6,329.1 268.8,332.8 260.9,329.1 260.9,321.7"/></g><g fill="#2b9770"><polygon points="331.5,406.5 339.3,410.2 339.3,417.6 331.5,421.3 323.6,417.6 323.6,410.2"/><polygon points="300.1,362.3 308.0,366.0 308.0,373.3 300.1,377.0 292.3,373.3 292.3,366.0"/><polygon points="315.8,362.3 323.6,366.0 323.6,373.3 315.8,377.0 308.0,373.3 308.0,366.0"/><polygon points="347.1,362.3 355.0,366.0 355.0,373.3 347.1,377.0 339.3,373.3 339.3,366.0"/><polygon points="237.4,340.2 245.3,343.9 245.3,351.2 237.4,354.9 229.6,351.2 229.6,343.9"/><polygon points="253.1,340.2 260.9,343.9 260.9,351.2 253.1,354.9 245.3,351.2 245.3,343.9"/><polygon points="300.1,340.2 308.0,343.9 308.0,351.2 300.1,354.9 292.3,351.2 292.3,343.9"/><polygon points="143.4,318.0 151.2,321.7 151.2,329.1 143.4,332.8 135.6,329.1 135.6,321.7"/><polygon points="174.7,318.0 182.6,321.7 182.6,329.1 174.7,332.8 166.9,329.1 166.9,321.7"/></g><g fill="#2f9d6d"><polygon points="284.4,340.2 292.3,343.9 292.3,351.2 284.4,354.9 276.6,351.2 276.6,343.9"/></g><g fill="#32a369"><polygon points="300.1,406.5 308.0,410.2 308.0,417.6 300.1,421.3 292.3,417.6 292.3,410.2"/><polygon points="315.8,406.5 323.6,410.2 323.6,417.6 315.8,421.3 308.0,417.6 308.0,410.2"/><polygon points="284.4,362.3 292.3,366.0 292.3,373.3 284.4,377.0 276.6,373.3 276.6,366.0"/></g><g fill="#38a965"><polygon points="206.1,340.2 213.9,343.9 213.9,351.2 206.1,354.9 198.2,351.2 198.2,343.9"/><polygon points="221.8,340.2 229.6,343.9 229.6,351.2 221.8,354.9 213.9,351.2 213.9,343.9"/><polygon points="268.8,340.2 276.6,343.9 276.6,351.2 268.8,354.9 260.9,351.2 260.9,343.9"/></g><g fill="#41af5e"><polygon points="284.4,406.5 292.3,410.2 292.3,417.6 284.4,421.3 276.6,417.6 276.6,410.2"/><polygon points="253.1,362.3 260.9,366.0 260.9,373.3 253.1,377.0 245.3,373.3 245.3,366.0"/><polygon points="80.7,340.2 88.5,343.9 88.5,351.2 80.7,354.9 72.9,351.2 72.9,343.9"/><polygon points="143.4,340.2 151.2,343.9 151.2,351.2 143.4,354.9 135.6,351.2 135.6,343.9"/><polygon points="174.7,340.2 182.6,343.9 182.6,351.2 174.7,354.9 166.9,351.2 166.9,343.9"/></g><g fill="#4bb558"><polygon points="237.4,362.3 245.3,366.0 245.3,373.3 237.4,377.0 229.6,373.3 229.6,366.0"/></g><g fill="#55bb52"><polygon points="253.1,406.5 260.9,410.2 260.9,417.6 253.1,421.3 245.3,417.6 245.3,410.2"/><polygon points="174.7,362.3 182.6,366.0 182.6,373.3 174.7,377.0 166.9,373.3 166.9,366.0"/><polygon points="206.1,362.3 213.9,366.0 213.9,373.3 206.1,377.0 198.2,373.3 198.2,366.0"/><polygon points="221.8,362.3 229.6,366.0 229.6,373.3 221.8,377.0 213.9,373.3 213.9,366.0"/></g><g fill="#60c04c"><polygon points="268.8,362.3 276.6,366.0 276.6,373.3 268.8,377.0 260.9,373.3 260.9,366.0"/></g><g fill="#6ec544"><polygon points="221.8,406.5 229.6,410.2 229.6,417.6 221.8,421.3 213.9,417.6 213.9,410.2"/><polygon points="237.4,406.5 245.3,410.2 245.3,417.6 237.4,421.3 229.6,417.6 229.6,410.2"/><polygon points="268.8,406.5 276.6,410.2 276.6,417.6 268.8,421.3 260.9,417.6 260.9,410.2"/><polygon points="80.7,362.3 88.5,366.0 88.5,373.3 80.7,377.0 72.9,373.3 72.9,366.0"/><polygon points="143.4,362.3 151.2,366.0 151.2,373.3 143.4,377.0 135.6,373.3 135.6,366.0"/></g><g fill="#8ece36"><polygon points="206.1,406.5 213.9,410.2 213.9,417.6 206.1,421.3 198.2,417.6 198.2,410.2"/></g><g fill="#b0d72c"><polygon points="174.7,406.5 182.6,410.2 182.6,417.6 174.7,421.3 166.9,417.6 166.9,410.2"/></g><g fill="#d4dc2b"><polygon points="143.4,406.5 151.2,410.2 151.2,417.6 143.4,421.3 135.6,417.6 135.6,410.2"/></g><g fill="#fbe12b"><polygon points="80.7,406.5 88.5,410.2 88.5,417.6 80.7,421.3 72.9,417.6 72.9,410.2"/></g></g>
<g id="rug" fill="#000"><rect x="51" y="35" width="15.6" height="1" fill-opacity="0.008"/><rect x="51" y="37" width="15.6" height="1" fill-opacity="0.007"/><rect x="51" y="42" width="15.6" height="1" fill-opacity="0.006"/><rect x="51" y="47" width="15.6" height="1" fill-opacity="0.009"/><rect x="51" y="49" width="15.6" height="1" fill-opacity="0.006"/><rect x="51" y="50" width="15.6" height="1" fill-opacity="0.007"/><rect x="51" y="53" width="15.6" height="1" fill-opacity="0.01"/><rect x="51" y="58" width="15.6" height="1" fill-opacity="0.008"/><rect x="51" y="59" width="15.6" height="1" fill-opacity="0.006"/><rect x="51" y="61" width="15.6" height="1" fill-opacity="0.01"/><rect x="51" y="62" width="15.6" height="1" fill-opacity="0.009"/><rect x="51" y="63" width="15.6" height="1" fill-opacity="0.011"/><rect x="51" y="64" width="15.6" height="1" fill-opacity="0.013"/><rect x="51" y="65" width="15.6" height="1" fill-opacity="0.009"/><rect x="51" y="66" width="15.6" height="1" fill-opacity="0.008"/><rect x="51" y="68" width="15.6" height="1" fill-opacity="0.01"/><rect x="51" y="74" width="15.6" height="1" fill-opacity="0.014"/><rect x="51" y="77" width="15.6" height="1" fill-opacity="0.01"/><rect x="51" y="78" width="15.6" height="1" fill-opacity="0.016"/><rect x="51" y="79" width="15.6" height="1" fill-opacity="0.012"/><rect x="51" y="82" width="15.6" height="1" fill-opacity="0.012"/><rect x="51" y="85" width="15.6" height="1" fill-opacity="0.016"/><rect x="51" y="86" width="15.6" height="1" fill-opacity="0.017"/><rect x="51" y="87" width="15.6" height="1" fill-opacity="0.011"/><rect x="51" y="88" width="15.6" height="1" fill-opacity="0.012"/><rect x="51" y="89" width="15.6" height="1" fill-opacity="0.013"/><rect x="51" y="90" width="15.6" height="1" fill-opacity="0.021"/><rect x="51" y="91" width="15.6" height="1" fill-opacity="0.015"/><rect x="51" y="92" width="15.6" height="1" fill-opacity="0.015"/><rect x="51" y="93" width="15.6" height="1" fill-opacity="0.015"/><rect x="51" y="95" width="15.6" height="1" fill-opacity="0.021"/><rect x="51" y="96" width="15.6" height="1" fill-opacity="0.019"/><rect x="51" y="97" width="15.6" height="1" fill-opacity="0.016"/><rect x="51" y="99" width="15.6" height="1" fill-opacity="0.008"/><rect x="51" y="100" width="15.6" height="1" fill-opacity="0.019"/><rect x="51" y="102" width="15.6" height="1" fill-opacity="0.012"/><rect x="51" y="103" width="15.6" height="1" fill-opacity="0.022"/><rect x="51" y="105" width="15.6" height="1" fill-opacity="0.027"/><rect x="51" y="106" width="15.6" height="1" fill-opacity="0.019"/><rect x="51" y="107" width="15.6" height="1" fill-opacity="0.014"/><rect x="51" y="108" width="15.6" height="1" fill-opacity="0.018"/><rect x="51" y="109" width="15.6" height="1" fill-opacity="0.021"/><rect x="51" y="110" width="15.6" height="1" fill-opacity="0.017"/><rect x="51" y="111" width="15.6" height="1" fill-opacity="0.026"/><rect x="51" y="112" width="15.6" height="1" fill-opacity="0.01"/><rect x="51" y="113" width="15.6" height="1" fill-opacity="0.013"/><rect x="51" y="114" width="15.6" height="1" fill-opacity="0.026"/><rect x="51" y="115" width="15.6" height="1" fill-opacity="0.017"/><rect x="51" y="116" width="15.6" height="1" fill-opacity="0.009"/><rect x="51" y="117" width="15.6" height="1" fill-opacity="0.027"/><rect x="51" y="118" width="15.6" height="1" fill-opacity="0.032"/><rect x="51" y="119" width="15.6" height="1" fill-opacity="0.014"/><rect x="51" y="121" width="15.6" height="1" fill-opacity="0.018"/><rect x="51" y="122" width="15.6" height="1" fill-opacity="0.018"/><rect x="51" y="123" width="15.6" height="1" fill-opacity="0.017"/><rect x="51" y="124" width="15.6" height="1" fill-opacity="0.035"/><rect x="51" y="125" width="15.6" height="1" fill-opacity="0.009"/><rect x="51" y="126" width="15.6" height="1" fill-opacity="0.035"/><rect x="51" y="127" width="15.6" height="1" fill-opacity="0.006"/><rect x="51" y="128" width="15.6" height="1" fill-opacity="0.012"/><rect x="51" y="129" width="15.6" height="1" fill-opacity="0.029"/><rect x="51" y="130" width="15.6" height="1" fill-opacity="0.036"/><rect x="51" y="131" width="15.6" height="1" fill-opacity="0.033"/><rect x="51" y="132" width="15.6" height="1" fill-opacity="0.028"/><rect x="51" y="133" width="15.6" height="1" fill-opacity="0.025"/><rect x="51" y="134" width="15.6" height="1" fill-opacity="0.026"/><rect x="51" y="135" width="15.6" height="1" fill-opacity="0.032"/><rect x="51" y="136" width="15.6" height="1" fill-opacity="0.022"/><rect x="51" y="137" width="15.6" height="1" fill-opacity="0.029"/><rect x="51" y="138" width="15.6" height="1" fill-opacity="0.033"/><rect x="51" y="139" width="15.6" height="1" fill-opacity="0.026"/><rect x="51" y="140" width="15.6" height="1" fill-opacity="0.037"/><rect x="51" y="141" width="15.6" height="1" fill-opacity="0.035"/><rect x="51" y="142" width="15.6" height="1" fill-opacity="0.056"/><rect x="51" y="143" width="15.6" height="1" fill-opacity="0.033"/><rect x="51" y="144" width="15.6" height="1" fill-opacity="0.022"/><rect x="51" y="145" width="15.6" height="1" fill-opacity="0.023"/><rect x="51" y="146" width="15.6" height="1" fill-opacity="0.029"/><rect x="51" y="147" width="15.6" height="1" fill-opacity="0.044"/><rect x="51" y="148" width="15.6" height="1" fill-opacity="0.025"/><rect x="51" y="149" width="15.6" height="1" fill-opacity="0.037"/><rect x="51" y="150" width="15.6" height="1" fill-opacity="0.06"/><rect x="51" y="152" width="15.6" height="1" fill-opacity="0.015"/><rect x="51" y="153" width="15.6" height="1" fill-opacity="0.037"/><rect x="51" y="154" width="15.6" height="1" fill-opacity="0.04"/><rect x="51" y="155" width="15.6" height="1" fill-opacity="0.038"/><rect x="51" y="156" width="15.6" height="1" fill-opacity="0.028"/><rect x="51" y="157" width="15.6" height="1" fill-opacity="0.046"/><rect x="51" y="158" width="15.6" height="1" fill-opacity="0.041"/><rect x="51" y="159" width="15.6" height="1" fill-opacity="0.028"/><rect x="51" y="160" width="15.6" height="1" fill-opacity="0.077"/><rect x="51" y="161" width="15.6" height="1" fill-opacity="0.044"/><rect x="51" y="162" width="15.6" height="1" fill-opacity="0.029"/><rect x="51" y="163" width="15.6" height="1" fill-opacity="0.038"/><rect x="51" y="164" width="15.6" height="1" fill-opacity="0.036"/><rect x="51" y="165" width="15.6" height="1" fill-opacity="0.039"/><rect x="51" y="167" width="15.6" height="1" fill-opacity="0.034"/><rect x="51" y="168" width="15.6" height="1" fill-opacity="0.062"/><rect x="51" y="169" width="15.6" height="1" fill-opacity="0.022"/><rect x="51" y="170" width="15.6" height="1" fill-opacity="0.042"/><rect x="51" y="171" width="15.6" height="1" fill-opacity="0.063"/><rect x="51" y="172" width="15.6" height="1" fill-opacity="0.062"/><rect x="51" y="173" width="15.6" height="1" fill-opacity="0.073"/><rect x="51" y="174" width="15.6" height="1" fill-opacity="0.016"/><rect x="51" y="175" width="15.6" height="1" fill-opacity="0.041"/><rect x="51" y="176" width="15.6" height="1" fill-opacity="0.041"/><rect x="51" y="177" width="15.6" height="1" fill-opacity="0.064"/><rect x="51" y="178" width="15.6" height="1" fill-opacity="0.073"/><rect x="51" y="180" width="15.6" height="1" fill-opacity="0.076"/><rect x="51" y="181" width="15.6" height="1" fill-opacity="0.024"/><rect x="51" y="182" width="15.6" height="1" fill-opacity="0.068"/><rect x="51" y="183" width="15.6" height="1" fill-opacity="0.025"/><rect x="51" y="184" width="15.6" height="1" fill-opacity="0.059"/><rect x="51" y="185" width="15.6" height="1" fill-opacity="0.084"/><rect x="51" y="186" width="15.6" height="1" fill-opacity="0.053"/><rect x="51" y="187" width="15.6" height="1" fill-opacity="0.066"/><rect x="51" y="188" width="15.6" height="1" fill-opacity="0.075"/><rect x="51" y="189" width="15.6" height="1" fill-opacity="0.065"/><rect x="51" y="190" width="15.6" height="1" fill-opacity="0.062"/><rect x="51" y="191" width="15.6" height="1" fill-opacity="0.094"/><rect x="51" y="192" width="15.6" height="1" fill-opacity="0.088"/><rect x="51" y="193" width="15.6" height="1" fill-opacity="0.059"/><rect x="51" y="194" width="15.6" height="1" fill-opacity="0.125"/><rect x="51" y="195" width="15.6" height="1" fill-opacity="0.043"/><rect x="51" y="196" width="15.6" height="1" fill-opacity="0.087"/><rect x="51" y="197" width="15.6" height="1" fill-opacity="0.067"/><rect x="51" y="198" width="15.6" height="1" fill-opacity="0.07"/><rect x="51" y="199" width="15.6" height="1" fill-opacity="0.093"/><rect x="51" y="200" width="15.6" height="1" fill-opacity="0.073"/><rect x="51" y="201" width="15.6" height="1" fill-opacity="0.096"/><rect x="51" y="202" width="15.6" height="1" fill-opacity="0.035"/><rect x="51" y="203" width="15.6" height="1" fill-opacity="0.046"/><rect x="51" y="204" width="15.6" height="1" fill-opacity="0.089"/><rect x="51" y="205" width="15.6" height="1" fill-opacity="0.059"/><rect x="51" y="206" width="15.6" height="1" fill-opacity="0.056"/><rect x="51" y="207" width="15.6" height="1" fill-opacity="0.045"/><rect x="51" y="208" width="15.6" height="1" fill-opacity="0.118"/><rect x="51" y="209" width="15.6" height="1" fill-opacity="0.105"/><rect x="51" y="210" width="15.6" height="1" fill-opacity="0.119"/><rect x="51" y="211" width="15.6" height="1" fill-opacity="0.07"/><rect x="51" y="212" width="15.6" height="1" fill-opacity="0.083"/><rect x="51" y="213" width="15.6" height="1" fill-opacity="0.067"/><rect x="51" y="214" width="15.6" height="1" fill-opacity="0.117"/><rect x="51" y="215" width="15.6" height="1" fill-opacity="0.119"/><rect x="51" y="216" width="15.6" height="1" fill-opacity="0.086"/><rect x="51" y="217" width="15.6" height="1" fill-opacity="0.133"/><rect x="51" y="218" width="15.6" height="1" fill-opacity="0.116"/><rect x="51" y="219" width="15.6" height="1" fill-opacity="0.111"/><rect x="51" y="220" width="15.6" height="1" fill-opacity="0.044"/><rect x="51" y="221" width="15.6" height="1" fill-opacity="0.133"/><rect x="51" y="222" width="15.6" height="1" fill-opacity="0.116"/><rect x="51" y="223" width="15.6" height="1" fill-opacity="0.089"/><rect x="51" y="224" width="15.6" height="1" fill-opacity="0.116"/><rect x="51" y="225" width="15.6" height="1" fill-opacity="0.129"/><rect x="51" y="226" width="15.6" height="1" fill-opacity="0.157"/><rect x="51" y="227" width="15.6" height="1" fill-opacity="0.087"/><rect x="51" y="228" width="15.6" height="1" fill-opacity="0.14"/><rect x="51" y="229" width="15.6" height="1" fill-opacity="0.171"/><rect x="51" y="230" width="15.6" height="1" fill-opacity="0.17"/><rect x="51" y="231" width="15.6" height="1" fill-opacity="0.097"/><rect x="51" y="232" width="15.6" height="1" fill-opacity="0.113"/><rect x="51" y="233" width="15.6" height="1" fill-opacity="0.173"/><rect x="51" y="234" width="15.6" height="1" fill-opacity="0.125"/><rect x="51" y="235" width="15.6" height="1" fill-opacity="0.109"/><rect x="51" y="236" width="15.6" height="1" fill-opacity="0.203"/><rect x="51" y="237" width="15.6" height="1" fill-opacity="0.145"/><rect x="51" y="238" width="15.6" height="1" fill-opacity="0.049"/><rect x="51" y="239" width="15.6" height="1" fill-opacity="0.105"/><rect x="51" y="240" width="15.6" height="1" fill-opacity="0.116"/><rect x="51" y="241" width="15.6" height="1" fill-opacity="0.178"/><rect x="51" y="242" width="15.6" height="1" fill-opacity="0.14"/><rect x="51" y="243" width="15.6" height="1" fill-opacity="0.113"/><rect x="51" y="244" width="15.6" height="1" fill-opacity="0.18"/><rect x="51" y="245" width="15.6" height="1" fill-opacity="0.189"/><rect x="51" y="246" width="15.6" height="1" fill-opacity="0.151"/><rect x="51" y="247" width="15.6" height="1" fill-opacity="0.189"/><rect x="51" y="248" width="15.6" height="1" fill-opacity="0.149"/><rect x="51" y="249" width="15.6" height="1" fill-opacity="0.223"/><rect x="51" y="250" width="15.6" height="1" fill-opacity="0.218"/><rect x="51" y="251" width="15.6" height="1" fill-opacity="0.221"/><rect x="51" y="252" width="15.6" height="1" fill-opacity="0.149"/><rect x="51" y="253" width="15.6" height="1" fill-opacity="0.171"/><rect x="51" y="254" width="15.6" height="1" fill-opacity="0.132"/><rect x="51" y="255" width="15.6" height="1" fill-opacity="0.16"/><rect x="51" y="256" width="15.6" height="1" fill-opacity="0.129"/><rect x="51" y="257" width="15.6" height="1" fill-opacity="0.233"/><rect x="51" y="258" width="15.6" height="1" fill-opacity="0.099"/><rect x="51" y="259" width="15.6" height="1" fill-opacity="0.18"/><rect x="51" y="260" width="15.6" height="1" fill-opacity="0.224"/><rect x="51" y="261" width="15.6" height="1" fill-opacity="0.23"/><rect x="51" y="262" width="15.6" height="1" fill-opacity="0.21"/><rect x="51" y="263" width="15.6" height="1" fill-opacity="0.171"/><rect x="51" y="264" width="15.6" height="1" fill-opacity="0.185"/><rect x="51" y="265" width="15.6" height="1" fill-opacity="0.218"/><rect x="51" y="266" width="15.6" height="1" fill-opacity="0.292"/><rect x="51" y="267" width="15.6" height="1" fill-opacity="0.309"/><rect x="51" y="268" width="15.6" height="1" fill-opacity="0.239"/><rect x="51" y="269" width="15.6" height="1" fill-opacity="0.12"/><rect x="51" y="270" width="15.6" height="1" fill-opacity="0.143"/><rect x="51" y="271" width="15.6" height="1" fill-opacity="0.194"/><rect x="51" y="272" width="15.6" height="1" fill-opacity="0.255"/><rect x="51" y="273" width="15.6" height="1" fill-opacity="0.302"/><rect x="51" y="274" width="15.6" height="1" fill-opacity="0.329"/><rect x="51" y="275" width="15.6" height="1" fill-opacity="0.223"/><rect x="51" y="276" width="15.6" height="1" fill-opacity="0.197"/><rect x="51" y="277" width="15.6" height="1" fill-opacity="0.223"/><rect x="51" y="278" width="15.6" height="1" fill-opacity="0.202"/><rect x="51" y="279" width="15.6" height="1" fill-opacity="0.271"/><rect x="51" y="280" width="15.6" height="1" fill-opacity="0.329"/><rect x="51" y="281" width="15.6" height="1" fill-opacity="0.273"/><rect x="51" y="282" width="15.6" height="1" fill-opacity="0.277"/><rect x="51" y="283" width="15.6" height="1" fill-opacity="0.224"/><rect x="51" y="284" width="15.6" height="1" fill-opacity="0.211"/><rect x="51" y="285" width="15.6" height="1" fill-opacity="0.216"/><rect x="51" y="286" width="15.6" height="1" fill-opacity="0.187"/><rect x="51" y="287" width="15.6" height="1" fill-opacity="0.294"/><rect x="51" y="288" width="15.6" height="1" fill-opacity="0.382"/><rect x="51" y="289" width="15.6" height="1" fill-opacity="0.316"/><rect x="51" y="290" width="15.6" height="1" fill-opacity="0.207"/><rect x="51" y="291" width="15.6" height="1" fill-opacity="0.315"/><rect x="51" y="292" width="15.6" height="1" fill-opacity="0.278"/><rect x="51" y="293" width="15.6" height="1" fill-opacity="0.225"/><rect x="51" y="294" width="15.6" height="1" fill-opacity="0.329"/><rect x="51" y="295" width="15.6" height="1" fill-opacity="0.292"/><rect x="51" y="296" width="15.6" height="1" fill-opacity="0.213"/><rect x="51" y="297" width="15.6" height="1" fill-opacity="0.229"/><rect x="51" y="298" width="15.6" height="1" fill-opacity="0.405"/><rect x="51" y="299" width="15.6" height="1" fill-opacity="0.376"/><rect x="51" y="300" width="15.6" height="1" fill-opacity="0.423"/><rect x="51" y="301" width="15.6" height="1" fill-opacity="0.422"/><rect x="51" y="302" width="15.6" height="1" fill-opacity="0.419"/><rect x="51" y="303" width="15.6" height="1" fill-opacity="0.406"/><rect x="51" y="304" width="15.6" height="1" fill-opacity="0.443"/><rect x="51" y="305" width="15.6" height="1" fill-opacity="0.418"/><rect x="51" y="306" width="15.6" height="1" fill-opacity="0.334"/><rect x="51" y="308" width="15.6" height="1" fill-opacity="0.029"/><rect x="51" y="309" width="15.6" height="1" fill-opacity="0.582"/><rect x="51" y="310" width="15.6" height="1" fill-opacity="0.596"/><rect x="51" y="311" width="15.6" height="1" fill-opacity="0.54"/><rect x="51" y="312" width="15.6" height="1" fill-opacity="0.533"/><rect x="51" y="313" width="15.6" height="1" fill-opacity="0.616"/><rect x="51" y="314" width="15.6" height="1" fill-opacity="0.482"/><rect x="51" y="315" width="15.6" height="1" fill-opacity="0.567"/><rect x="51" y="316" width="15.6" height="1" fill-opacity="0.63"/><rect x="51" y="317" width="15.6" height="1" fill-opacity="0.516"/><rect x="51" y="318" width="15.6" height="1" fill-opacity="0.166"/><rect x="51" y="322" width="15.6" height="1" fill-opacity="0.229"/><rect x="51" y="323" width="15.6" height="1" fill-opacity="0.815"/><rect x="51" y="324" width="15.6" height="1" fill-opacity="0.829"/><rect x="51" y="325" width="15.6" height="1" fill-opacity="0.836"/><rect x="51" y="326" width="15.6" height="1" fill-opacity="0.797"/><rect x="51" y="327" width="15.6" height="1" fill-opacity="0.815"/><rect x="51" y="328" width="15.6" height="1" fill-opacity="0.823"/><rect x="51" y="329" width="15.6" height="1" fill-opacity="0.834"/><rect x="51" y="330" width="15.6" height="1" fill-opacity="0.817"/><rect x="51" y="331" width="15.6" height="1" fill-opacity="0.813"/><rect x="51" y="332" width="15.6" height="1" fill-opacity="0.237"/><rect x="51" y="340" width="15.6" height="1" fill-opacity="0.407"/><rect x="51" y="341" width="15.6" height="1" fill-opacity="1"/><rect x="51" y="342" width="15.6" height="1" fill-opacity="1"/><rect x="51" y="343" width="15.6" height="1" fill-opacity="1"/><rect x="51" y="344" width="15.6" height="1" fill-opacity="1"/><rect x="51" y="345" width="15.6" height="1" fill-opacity="1"/><rect x="51" y="346" width="15.6" height="1" fill-opacity="1"/><rect x="51" y="347" width="15.6" height="1" fill-opacity="1"/><rect x="51" y="348" width="15.6" height="1" fill-opacity="0.999"/><rect x="51" y="349" width="15.6" height="1" fill-opacity="1"/><rect x="51" y="350" width="15.6" height="1" fill-opacity="0.852"/><rect x="51" y="366" width="15.6" height="1" fill-opacity="1"/><rect x="51" y="367" width="15.6" height="1" fill-opacity="1"/><rect x="51" y="368" width="15.6" height="1" fill-opacity="1"/><rect x="51" y="369" width="15.6" height="1" fill-opacity="1"/><rect x="51" y="370" width="15.6" height="1" fill-opacity="1"/><rect x="51" y="371" width="15.6" height="1" fill-opacity="1"/><rect x="51" y="372" width="15.6" height="1" fill-opacity="1"/><rect x="51" y="373" width="15.6" height="1" fill-opacity="1"/><rect x="51" y="374" width="15.6" height="1" fill-opacity="1"/><rect x="51" y="375" width="15.6" height="1" fill-opacity="1"/><rect x="51" y="409" width="15.6" height="1" fill-opacity="0.844"/><rect x="51" y="410" width="15.6" height="1" fill-opacity="1"/><rect x="51" y="411" width="15.6" height="1" fill-opacity="1"/><rect x="51" y="412" width="15.6" height="1" fill-opacity="1"/><rect x="51" y="413" width="15.6" height="1" fill-opacity="1"/><rect x="51" y="414" width="15.6" height="1" fill-opacity="1"/><rect x="51" y="415" width="15.6" height="1" fill-opacity="1"/><rect x="51" y="416" width="15.6" height="1" fill-opacity="1"/><rect x="51" y="417" width="15.6" height="1" fill-opacity="1"/><rect x="51" y="418" width="15.6" height="1" fill-opacity="1"/><rect x="51" y="419" width="15.6" height="1" fill-opacity="0.826"/><rect x="74" y="424.8" width="1" height="12.95" fill-opacity="0.999"/><rect x="75" y="424.8" width="1" height="12.95" fill-opacity="1"/><rect x="76" y="424.8" width="1" height="12.95" fill-opacity="1"/><rect x="77" y="424.8" width="1" height="12.95" fill-opacity="1"/><rect x="78" y="424.8" width="1" height="12.95" fill-opacity="1"/><rect x="79" y="424.8" width="1" height="12.95" fill-opacity="1"/><rect x="80" y="424.8" width="1" height="12.95" fill-opacity="1"/><rect x="81" y="424.8" width="1" height="12.95" fill-opacity="1"/><rect x="82" y="424.8" width="1" height="12.95" fill-opacity="1"/><rect x="83" y="424.8" width="1" height="12.95" fill-opacity="1"/><rect x="84" y="424.8" width="1" height="12.95" fill-opacity="1"/><rect x="85" y="424.8" width="1" height="12.95" fill-opacity="1"/><rect x="86" y="424.8" width="1" height="12.95" fill-opacity="1"/><rect x="87" y="424.8" width="1" height="12.95" fill-opacity="0.48"/><rect x="135" y="424.8" width="1" height="12.95" fill-opacity="1"/><rect x="136" y="424.8" width="1" height="12.95" fill-opacity="1"/><rect x="137" y="424.8" width="1" height="12.95" fill-opacity="1"/><rect x="138" y="424.8" width="1" height="12.95" fill-opacity="1"/><rect x="139" y="424.8" width="1" height="12.95" fill-opacity="1"/><rect x="140" y="424.8" width="1" height="12.95" fill-opacity="1"/><rect x="141" y="424.8" width="1" height="12.95" fill-opacity="1"/><rect x="142" y="424.8" width="1" height="12.95" fill-opacity="1"/><rect x="143" y="424.8" width="1" height="12.95" fill-opacity="1"/><rect x="144" y="424.8" width="1" height="12.95" fill-opacity="1"/><rect x="145" y="424.8" width="1" height="12.95" fill-opacity="1"/><rect x="146" y="424.8" width="1" height="12.95" fill-opacity="1"/><rect x="147" y="424.8" width="1" height="12.95" fill-opacity="1"/><rect x="170" y="424.8" width="1" height="12.95" fill-opacity="0.185"/><rect x="171" y="424.8" width="1" height="12.95" fill-opacity="0.879"/><rect x="172" y="424.8" width="1" height="12.95" fill-opacity="0.907"/><rect x="173" y="424.8" width="1" height="12.95" fill-opacity="0.883"/><rect x="174" y="424.8" width="1" height="12.95" fill-opacity="0.898"/><rect x="175" y="424.8" width="1" height="12.95" fill-opacity="0.883"/><rect x="176" y="424.8" width="1" height="12.95" fill-opacity="0.9"/><rect x="177" y="424.8" width="1" height="12.95" fill-opacity="0.891"/><rect x="178" y="424.8" width="1" height="12.95" fill-opacity="0.902"/><rect x="179" y="424.8" width="1" height="12.95" fill-opacity="0.929"/><rect x="180" y="424.8" width="1" height="12.95" fill-opacity="0.899"/><rect x="181" y="424.8" width="1" height="12.95" fill-opacity="0.908"/><rect x="182" y="424.8" width="1" height="12.95" fill-opacity="0.885"/><rect x="183" y="424.8" width="1" height="12.95" fill-opacity="0.75"/><rect x="196" y="424.8" width="1" height="12.95" fill-opacity="0.725"/><rect x="197" y="424.8" width="1" height="12.95" fill-opacity="0.786"/><rect x="198" y="424.8" width="1" height="12.95" fill-opacity="0.794"/><rect x="199" y="424.8" width="1" height="12.95" fill-opacity="0.79"/><rect x="200" y="424.8" width="1" height="12.95" fill-opacity="0.768"/><rect x="201" y="424.8" width="1" height="12.95" fill-opacity="0.798"/><rect x="202" y="424.8" width="1" height="12.95" fill-opacity="0.772"/><rect x="203" y="424.8" width="1" height="12.95" fill-opacity="0.82"/><rect x="204" y="424.8" width="1" height="12.95" fill-opacity="0.778"/><rect x="205" y="424.8" width="1" height="12.95" fill-opacity="0.8"/><rect x="206" y="424.8" width="1" height="12.95" fill-opacity="0.788"/><rect x="207" y="424.8" width="1" height="12.95" fill-opacity="0.805"/><rect x="208" y="424.8" width="1" height="12.95" fill-opacity="0.74"/><rect x="215" y="424.8" width="1" height="12.95" fill-opacity="0.227"/><rect x="216" y="424.8" width="1" height="12.95" fill-opacity="0.696"/><rect x="217" y="424.8" width="1" height="12.95" fill-opacity="0.727"/><rect x="218" y="424.8" width="1" height="12.95" fill-opacity="0.713"/><rect x="219" y="424.8" width="1" height="12.95" fill-opacity="0.702"/><rect x="220" y="424.8" width="1" height="12.95" fill-opacity="0.68"/><rect x="221" y="424.8" width="1" height="12.95" fill-opacity="0.716"/><rect x="222" y="424.8" width="1" height="12.95" fill-opacity="0.709"/><rect x="223" y="424.8" width="1" height="12.95" fill-opacity="0.734"/><rect x="224" y="424.8" width="1" height="12.95" fill-opacity="0.69"/><rect x="225" y="424.8" width="1" height="12.95" fill-opacity="0.711"/><rect x="226" y="424.8" width="1" height="12.95" fill-opacity="0.71"/><rect x="227" y="424.8" width="1" height="12.95" fill-opacity="0.705"/><rect x="228" y="424.8" width="1" height="12.95" fill-opacity="0.466"/><rect x="231" y="424.8" width="1" height="12.95" fill-opacity="0.136"/><rect x="232" y="424.8" width="1" height="12.95" fill-opacity="0.569"/><rect x="233" y="424.8" width="1" height="12.95" fill-opacity="0.557"/><rect x="234" y="424.8" width="1" height="12.95" fill-opacity="0.574"/><rect x="235" y="424.8" width="1" height="12.95" fill-opacity="0.601"/><rect x="236" y="424.8" width="1" height="12.95" fill-opacity="0.624"/><rect x="237" y="424.8" width="1" height="12.95" fill-opacity="0.611"/><rect x="238" y="424.8" width="1" height="12.95" fill-opacity="0.613"/><rect x="239" y="424.8" width="1" height="12.95" fill-opacity="0.606"/><rect x="240" y="424.8" width="1" height="12.95" fill-opacity="0.604"/><rect x="241" y="424.8" width="1" height="12.95" fill-opacity="0.59"/><rect x="242" y="424.8" width="1" height="12.95" fill-opacity="0.606"/><rect x="243" y="424.8" width="1" height="12.95" fill-opacity="0.631"/><rect x="244" y="424.8" width="1" height="12.95" fill-opacity="0.368"/><rect x="245" y="424.8" width="1" height="12.95" fill-opacity="0.327"/><rect x="246" y="424.8" width="1" height="12.95" fill-opacity="0.557"/><rect x="247" y="424.8" width="1" height="12.95" fill-opacity="0.51"/><rect x="248" y="424.8" width="1" height="12.95" fill-opacity="0.531"/><rect x="249" y="424.8" width="1" height="12.95" fill-opacity="0.528"/><rect x="250" y="424.8" width="1" height="12.95" fill-opacity="0.469"/><rect x="251" y="424.8" width="1" height="12.95" fill-opacity="0.569"/><rect x="252" y="424.8" width="1" height="12.95" fill-opacity="0.552"/><rect x="253" y="424.8" width="1" height="12.95" fill-opacity="0.509"/><rect x="254" y="424.8" width="1" height="12.95" fill-opacity="0.525"/><rect x="255" y="424.8" width="1" height="12.95" fill-opacity="0.507"/><rect x="256" y="424.8" width="1" height="12.95" fill-opacity="0.477"/><rect x="257" y="424.8" width="1" height="12.95" fill-opacity="0.69"/><rect x="258" y="424.8" width="1" height="12.95" fill-opacity="0.469"/><rect x="259" y="424.8" width="1" height="12.95" fill-opacity="0.456"/><rect x="260" y="424.8" width="1" height="12.95" fill-opacity="0.444"/><rect x="261" y="424.8" width="1" height="12.95" fill-opacity="0.425"/><rect x="262" y="424.8" width="1" height="12.95" fill-opacity="0.462"/><rect x="263" y="424.8" width="1" height="12.95" fill-opacity="0.4"/><rect x="264" y="424.8" width="1" height="12.95" fill-opacity="0.446"/><rect x="265" y="424.8" width="1" height="12.95" fill-opacity="0.455"/><rect x="266" y="424.8" width="1" height="12.95" fill-opacity="0.414"/><rect x="267" y="424.8" width="1" height="12.95" fill-opacity="0.492"/><rect x="268" y="424.8" width="1" height="12.95" fill-opacity="0.61"/><rect x="269" y="424.8" width="1" height="12.95" fill-opacity="0.603"/><rect x="270" y="424.8" width="1" height="12.95" fill-opacity="0.381"/><rect x="271" y="424.8" width="1" height="12.95" fill-opacity="0.41"/><rect x="272" y="424.8" width="1" height="12.95" fill-opacity="0.335"/><rect x="273" y="424.8" width="1" height="12.95" fill-opacity="0.366"/><rect x="274" y="424.8" width="1" height="12.95" fill-opacity="0.385"/><rect x="275" y="424.8" width="1" height="12.95" fill-opacity="0.361"/><rect x="276" y="424.8" width="1" height="12.95" fill-opacity="0.351"/><rect x="277" y="424.8" width="1" height="12.95" fill-opacity="0.59"/><rect x="278" y="424.8" width="1" height="12.95" fill-opacity="0.627"/><rect x="279" y="424.8" width="1" height="12.95" fill-opacity="0.595"/><rect x="280" y="424.8" width="1" height="12.95" fill-opacity="0.344"/><rect x="281" y="424.8" width="1" height="12.95" fill-opacity="0.306"/><rect x="282" y="424.8" width="1" height="12.95" fill-opacity="0.325"/><rect x="283" y="424.8" width="1" height="12.95" fill-opacity="0.388"/><rect x="284" y="424.8" width="1" height="12.95" fill-opacity="0.337"/><rect x="285" y="424.8" width="1" height="12.95" fill-opacity="0.494"/><rect x="286" y="424.8" width="1" height="12.95" fill-opacity="0.553"/><rect x="287" y="424.8" width="1" height="12.95" fill-opacity="0.508"/><rect x="288" y="424.8" width="1" height="12.95" fill-opacity="0.561"/><rect x="289" y="424.8" width="1" height="12.95" fill-opacity="0.371"/><rect x="290" y="424.8" width="1" height="12.95" fill-opacity="0.267"/><rect x="291" y="424.8" width="1" height="12.95" fill-opacity="0.301"/><rect x="292" y="424.8" width="1" height="12.95" fill-opacity="0.368"/><rect x="293" y="424.8" width="1" height="12.95" fill-opacity="0.479"/><rect x="294" y="424.8" width="1" height="12.95" fill-opacity="0.468"/><rect x="295" y="424.8" width="1" height="12.95" fill-opacity="0.403"/><rect x="296" y="424.8" width="1" height="12.95" fill-opacity="0.438"/><rect x="297" y="424.8" width="1" height="12.95" fill-opacity="0.407"/><rect x="298" y="424.8" width="1" height="12.95" fill-opacity="0.234"/><rect x="299" y="424.8" width="1" height="12.95" fill-opacity="0.303"/><rect x="300" y="424.8" width="1" height="12.95" fill-opacity="0.406"/><rect x="301" y="424.8" width="1" height="12.95" fill-opacity="0.439"/><rect x="302" y="424.8" width="1" height="12.95" fill-opacity="0.418"/><rect x="303" y="424.8" width="1" height="12.95" fill-opacity="0.406"/><rect x="304" y="424.8" width="1" height="12.95" fill-opacity="0.419"/><rect x="305" y="424.8" width="1" height="12.95" fill-opacity="0.332"/><rect x="306" y="424.8" width="1" height="12.95" fill-opacity="0.358"/><rect x="307" y="424.8" width="1" height="12.95" fill-opacity="0.363"/><rect x="308" y="424.8" width="1" height="12.95" fill-opacity="0.371"/><rect x="309" y="424.8" width="1" height="12.95" fill-opacity="0.336"/><rect x="310" y="424.8" width="1" height="12.95" fill-opacity="0.424"/><rect x="311" y="424.8" width="1" height="12.95" fill-opacity="0.42"/><rect x="312" y="424.8" width="1" height="12.95" fill-opacity="0.372"/><rect x="313" y="424.8" width="1" height="12.95" fill-opacity="0.33"/><rect x="314" y="424.8" width="1" height="12.95" fill-opacity="0.307"/><rect x="315" y="424.8" width="1" height="12.95" fill-opacity="0.35"/><rect x="316" y="424.8" width="1" height="12.95" fill-opacity="0.351"/><rect x="317" y="424.8" width="1" height="12.95" fill-opacity="0.407"/><rect x="318" y="424.8" width="1" height="12.95" fill-opacity="0.455"/><rect x="319" y="424.8" width="1" height="12.95" fill-opacity="0.295"/><rect x="320" y="424.8" width="1" height="12.95" fill-opacity="0.24"/><rect x="321" y="424.8" width="1" height="12.95" fill-opacity="0.356"/><rect x="322" y="424.8" width="1" height="12.95" fill-opacity="0.322"/><rect x="323" y="424.8" width="1" height="12.95" fill-opacity="0.328"/><rect x="324" y="424.8" width="1" height="12.95" fill-opacity="0.419"/><rect x="325" y="424.8" width="1" height="12.95" fill-opacity="0.246"/><rect x="326" y="424.8" width="1" height="12.95" fill-opacity="0.378"/><rect x="327" y="424.8" width="1" height="12.95" fill-opacity="0.316"/><rect x="328" y="424.8" width="1" height="12.95" fill-opacity="0.355"/><rect x="329" y="424.8" width="1" height="12.95" fill-opacity="0.368"/><rect x="330" y="424.8" width="1" height="12.95" fill-opacity="0.277"/><rect x="331" y="424.8" width="1" height="12.95" fill-opacity="0.246"/><rect x="332" y="424.8" width="1" height="12.95" fill-opacity="0.204"/><rect x="333" y="424.8" width="1" height="12.95" fill-opacity="0.336"/><rect x="334" y="424.8" width="1" height="12.95" fill-opacity="0.264"/><rect x="335" y="424.8" width="1" height="12.95" fill-opacity="0.304"/><rect x="336" y="424.8" width="1" height="12.95" fill-opacity="0.262"/><rect x="337" y="424.8" width="1" height="12.95" fill-opacity="0.291"/><rect x="338" y="424.8" width="1" height="12.95" fill-opacity="0.259"/><rect x="339" y="424.8" width="1" height="12.95" fill-opacity="0.249"/><rect x="340" y="424.8" width="1" height="12.95" fill-opacity="0.32"/><rect x="341" y="424.8" width="1" height="12.95" fill-opacity="0.232"/><rect x="342" y="424.8" width="1" height="12.95" fill-opacity="0.235"/><rect x="343" y="424.8" width="1" height="12.95" fill-opacity="0.243"/><rect x="344" y="424.8" width="1" height="12.95" fill-opacity="0.243"/><rect x="345" y="424.8" width="1" height="12.95" fill-opacity="0.217"/><rect x="346" y="424.8" width="1" height="12.95" fill-opacity="0.215"/><rect x="347" y="424.8" width="1" height="12.95" fill-opacity="0.27"/><rect x="348" y="424.8" width="1" height="12.95" fill-opacity="0.255"/><rect x="349" y="424.8" width="1" height="12.95" fill-opacity="0.294"/><rect x="350" y="424.8" width="1" height="12.95" fill-opacity="0.238"/><rect x="351" y="424.8" width="1" height="12.95" fill-opacity="0.209"/><rect x="352" y="424.8" width="1" height="12.95" fill-opacity="0.185"/><rect x="353" y="424.8" width="1" height="12.95" fill-opacity="0.224"/><rect x="354" y="424.8" width="1" height="12.95" fill-opacity="0.2"/><rect x="355" y="424.8" width="1" height="12.95" fill-opacity="0.144"/><rect x="356" y="424.8" width="1" height="12.95" fill-opacity="0.209"/><rect x="357" y="424.8" width="1" height="12.95" fill-opacity="0.262"/><rect x="358" y="424.8" width="1" height="12.95" fill-opacity="0.243"/><rect x="359" y="424.8" width="1" height="12.95" fill-opacity="0.206"/><rect x="360" y="424.8" width="1" height="12.95" fill-opacity="0.191"/><rect x="361" y="424.8" width="1" height="12.95" fill-opacity="0.195"/><rect x="362" y="424.8" width="1" height="12.95" fill-opacity="0.197"/><rect x="363" y="424.8" width="1" height="12.95" fill-opacity="0.148"/><rect x="364" y="424.8" width="1" height="12.95" fill-opacity="0.164"/><rect x="365" y="424.8" width="1" height="12.95" fill-opacity="0.15"/><rect x="366" y="424.8" width="1" height="12.95" fill-opacity="0.126"/><rect x="367" y="424.8" width="1" height="12.95" fill-opacity="0.17"/><rect x="368" y="424.8" width="1" height="12.95" fill-opacity="0.183"/><rect x="369" y="424.8" width="1" height="12.95" fill-opacity="0.166"/><rect x="370" y="424.8" width="1" height="12.95" fill-opacity="0.187"/><rect x="371" y="424.8" width="1" height="12.95" fill-opacity="0.168"/><rect x="372" y="424.8" width="1" height="12.95" fill-opacity="0.178"/><rect x="373" y="424.8" width="1" height="12.95" fill-opacity="0.189"/><rect x="374" y="424.8" width="1" height="12.95" fill-opacity="0.131"/><rect x="375" y="424.8" width="1" height="12.95" fill-opacity="0.102"/><rect x="376" y="424.8" width="1" height="12.95" fill-opacity="0.181"/><rect x="377" y="424.8" width="1" height="12.95" fill-opacity="0.122"/><rect x="378" y="424.8" width="1" height="12.95" fill-opacity="0.169"/><rect x="379" y="424.8" width="1" height="12.95" fill-opacity="0.17"/><rect x="380" y="424.8" width="1" height="12.95" fill-opacity="0.15"/><rect x="381" y="424.8" width="1" height="12.95" fill-opacity="0.153"/><rect x="382" y="424.8" width="1" height="12.95" fill-opacity="0.1"/><rect x="383" y="424.8" width="1" height="12.95" fill-opacity="0.134"/><rect x="384" y="424.8" width="1" height="12.95" fill-opacity="0.117"/><rect x="385" y="424.8" width="1" height="12.95" fill-opacity="0.121"/><rect x="386" y="424.8" width="1" height="12.95" fill-opacity="0.102"/><rect x="387" y="424.8" width="1" height="12.95" fill-opacity="0.145"/><rect x="388" y="424.8" width="1" height="12.95" fill-opacity="0.144"/><rect x="389" y="424.8" width="1" height="12.95" fill-opacity="0.132"/><rect x="390" y="424.8" width="1" height="12.95" fill-opacity="0.08"/><rect x="391" y="424.8" width="1" height="12.95" fill-opacity="0.1"/><rect x="392" y="424.8" width="1" height="12.95" fill-opacity="0.055"/><rect x="393" y="424.8" width="1" height="12.95" fill-opacity="0.104"/><rect x="394" y="424.8" width="1" height="12.95" fill-opacity="0.118"/><rect x="395" y="424.8" width="1" height="12.95" fill-opacity="0.082"/><rect x="396" y="424.8" width="1" height="12.95" fill-opacity="0.111"/><rect x="397" y="424.8" width="1" height="12.95" fill-opacity="0.094"/><rect x="398" y="424.8" width="1" height="12.95" fill-opacity="0.115"/><rect x="399" y="424.8" width="1" height="12.95" fill-opacity="0.077"/><rect x="400" y="424.8" width="1" height="12.95" fill-opacity="0.069"/><rect x="401" y="424.8" width="1" height="12.95" fill-opacity="0.079"/><rect x="402" y="424.8" width="1" height="12.95" fill-opacity="0.109"/><rect x="403" y="424.8" width="1" height="12.95" fill-opacity="0.107"/><rect x="404" y="424.8" width="1" height="12.95" fill-opacity="0.075"/><rect x="405" y="424.8" width="1" height="12.95" fill-opacity="0.084"/><rect x="406" y="424.8" width="1" height="12.95" fill-opacity="0.079"/><rect x="407" y="424.8" width="1" height="12.95" fill-opacity="0.078"/><rect x="408" y="424.8" width="1" height="12.95" fill-opacity="0.071"/><rect x="409" y="424.8" width="1" height="12.95" fill-opacity="0.064"/><rect x="410" y="424.8" width="1" height="12.95" fill-opacity="0.047"/><rect x="411" y="424.8" width="1" height="12.95" fill-opacity="0.056"/><rect x="412" y="424.8" width="1" height="12.95" fill-opacity="0.093"/><rect x="413" y="424.8" width="1" height="12.95" fill-opacity="0.074"/><rect x="414" y="424.8" width="1" height="12.95" fill-opacity="0.063"/><rect x="415" y="424.8" width="1" height="12.95" fill-opacity="0.058"/><rect x="416" y="424.8" width="1" height="12.95" fill-opacity="0.06"/><rect x="417" y="424.8" width="1" height="12.95" fill-opacity="0.064"/><rect x="418" y="424.8" width="1" height="12.95" fill-opacity="0.046"/><rect x="419" y="424.8" width="1" height="12.95" fill-opacity="0.058"/><rect x="420" y="424.8" width="1" height="12.95" fill-opacity="0.058"/><rect x="421" y="424.8" width="1" height="12.95" fill-opacity="0.041"/><rect x="422" y="424.8" width="1" height="12.95" fill-opacity="0.039"/><rect x="423" y="424.8" width="1" height="12.95" fill-opacity="0.035"/><rect x="424" y="424.8" width="1" height="12.95" fill-opacity="0.032"/><rect x="425" y="424.8" width="1" height="12.95" fill-opacity="0.06"/><rect x="426" y="424.8" width="1" height="12.95" fill-opacity="0.014"/><rect x="427" y="424.8" width="1" height="12.95" fill-opacity="0.04"/><rect x="428" y="424.8" width="1" height="12.95" fill-opacity="0.037"/><rect x="429" y="424.8" width="1" height="12.95" fill-opacity="0.033"/><rect x="430" y="424.8" width="1" height="12.95" fill-opacity="0.044"/><rect x="431" y="424.8" width="1" height="12.95" fill-opacity="0.053"/><rect x="432" y="424.8" width="1" height="12.95" fill-opacity="0.04"/><rect x="433" y="424.8" width="1" height="12.95" fill-opacity="0.037"/><rect x="434" y="424.8" width="1" height="12.95" fill-opacity="0.031"/><rect x="435" y="424.8" width="1" height="12.95" fill-opacity="0.036"/><rect x="436" y="424.8" width="1" height="12.95" fill-opacity="0.043"/><rect x="437" y="424.8" width="1" height="12.95" fill-opacity="0.031"/><rect x="438" y="424.8" width="1" height="12.95" fill-opacity="0.022"/><rect x="439" y="424.8" width="1" height="12.95" fill-opacity="0.02"/><rect x="440" y="424.8" width="1" height="12.95" fill-opacity="0.022"/><rect x="441" y="424.8" width="1" height="12.95" fill-opacity="0.018"/><rect x="442" y="424.8" width="1" height="12.95" fill-opacity="0.04"/><rect x="443" y="424.8" width="1" height="12.95" fill-opacity="0.033"/><rect x="444" y="424.8" width="1" height="12.95" fill-opacity="0.026"/><rect x="445" y="424.8" width="1" height="12.95" fill-opacity="0.04"/><rect x="446" y="424.8" width="1" height="12.95" fill-opacity="0.023"/><rect x="447" y="424.8" width="1" height="12.95" fill-opacity="0.032"/><rect x="448" y="424.8" width="1" height="12.95" fill-opacity="0.032"/><rect x="449" y="424.8" width="1" height="12.95" fill-opacity="0.014"/><rect x="450" y="424.8" width="1" height="12.95" fill-opacity="0.013"/><rect x="451" y="424.8" width="1" height="12.95" fill-opacity="0.018"/><rect x="452" y="424.8" width="1" height="12.95" fill-opacity="0.03"/><rect x="453" y="424.8" width="1" height="12.95" fill-opacity="0.033"/><rect x="454" y="424.8" width="1" height="12.95" fill-opacity="0.014"/><rect x="455" y="424.8" width="1" height="12.95" fill-opacity="0.029"/><rect x="456" y="424.8" width="1" height="12.95" fill-opacity="0.02"/><rect x="457" y="424.8" width="1" height="12.95" fill-opacity="0.019"/><rect x="458" y="424.8" width="1" height="12.95" fill-opacity="0.018"/><rect x="459" y="424.8" width="1" height="12.95" fill-opacity="0.019"/><rect x="460" y="424.8" width="1" height="12.95" fill-opacity="0.009"/><rect x="461" y="424.8" width="1" height="12.95" fill-opacity="0.014"/><rect x="462" y="424.8" width="1" height="12.95" fill-opacity="0.012"/><rect x="463" y="424.8" width="1" height="12.95" fill-opacity="0.022"/><rect x="464" y="424.8" width="1" height="12.95" fill-opacity="0.03"/><rect x="465" y="424.8" width="1" height="12.95" fill-opacity="0.033"/><rect x="466" y="424.8" width="1" height="12.95" fill-opacity="0.016"/><rect x="467" y="424.8" width="1" height="12.95" fill-opacity="0.008"/><rect x="468" y="424.8" width="1" height="12.95" fill-opacity="0.015"/><rect x="469" y="424.8" width="1" height="12.95" fill-opacity="0.012"/><rect x="470" y="424.8" width="1" height="12.95" fill-opacity="0.026"/><rect x="471" y="424.8" width="1" height="12.95" fill-opacity="0.019"/><rect x="472" y="424.8" width="1" height="12.95" fill-opacity="0.012"/><rect x="473" y="424.8" width="1" height="12.95" fill-opacity="0.02"/><rect x="474" y="424.8" width="1" height="12.95" fill-opacity="0.017"/><rect x="475" y="424.8" width="1" height="12.95" fill-opacity="0.008"/><rect x="476" y="424.8" width="1" height="12.95" fill-opacity="0.012"/><rect x="477" y="424.8" width="1" height="12.95" fill-opacity="0.013"/><rect x="478" y="424.8" width="1" height="12.95" fill-opacity="0.014"/><rect x="479" y="424.8" width="1" height="12.95" fill-opacity="0.014"/><rect x="480" y="424.8" width="1" height="12.95" fill-opacity="0.012"/><rect x="481" y="424.8" width="1" height="12.95" fill-opacity="0.014"/><rect x="482" y="424.8" width="1" height="12.95" fill-opacity="0.01"/><rect x="483" y="424.8" width="1" height="12.95" fill-opacity="0.009"/><rect x="484" y="424.8" width="1" height="12.95" fill-opacity="0.017"/><rect x="485" y="424.8" width="1" height="12.95" fill-opacity="0.013"/><rect x="486" y="424.8" width="1" height="12.95" fill-opacity="0.013"/><rect x="488" y="424.8" width="1" height="12.95" fill-opacity="0.011"/><rect x="489" y="424.8" width="1" height="12.95" fill-opacity="0.014"/><rect x="490" y="424.8" width="1" height="12.95" fill-opacity="0.007"/><rect x="491" y="424.8" width="1" height="12.95" fill-opacity="0.014"/><rect x="492" y="424.8" width="1" height="12.95" fill-opacity="0.009"/><rect x="493" y="424.8" width="1" height="12.95" fill-opacity="0.011"/><rect x="494" y="424.8" width="1" height="12.95" fill-opacity="0.009"/><rect x="495" y="424.8" width="1" height="12.95" fill-opacity="0.01"/><rect x="496" y="424.8" width="1" height="12.95" fill-opacity="0.013"/><rect x="497" y="424.8" width="1" height="12.95" fill-opacity="0.008"/><rect x="498" y="424.8" width="1" height="12.95" fill-opacity="0.013"/><rect x="499" y="424.8" width="1" height="12.95" fill-opacity="0.007"/><rect x="500" y="424.8" width="1" height="12.95" fill-opacity="0.006"/><rect x="501" y="424.8" width="1" height="12.95" fill-opacity="0.01"/><rect x="503" y="424.8" width="1" height="12.95" fill-opacity="0.007"/><rect x="504" y="424.8" width="1" height="12.95" fill-opacity="0.01"/><rect x="505" y="424.8" width="1" height="12.95" fill-opacity="0.01"/><rect x="507" y="424.8" width="1" height="12.95" fill-opacity="0.008"/><rect x="508" y="424.8" width="1" height="12.95" fill-opacity="0.011"/><rect x="509" y="424.8" width="1" height="12.95" fill-opacity="0.009"/><rect x="510" y="424.8" width="1" height="12.95" fill-opacity="0.006"/><rect x="517" y="424.8" width="1" height="12.95" fill-opacity="0.007"/><rect x="520" y="424.8" width="1" height="12.95" fill-opacity="0.006"/><rect x="527" y="424.8" width="1" height="12.95" fill-opacity="0.007"/></g>
<g stroke="#262626" stroke-width="1.42"><line x1="80.70" x2="80.70" y1="437.75" y2="441.42"/><line x1="141.62" x2="141.62" y1="437.75" y2="441.42"/><line x1="202.55" x2="202.55" y1="437.75" y2="441.42"/><line x1="263.47" x2="263.47" y1="437.75" y2="441.42"/><line x1="324.40" x2="324.40" y1="437.75" y2="441.42"/><line x1="385.32" x2="385.32" y1="437.75" y2="441.42"/><line x1="446.25" x2="446.25" y1="437.75" y2="441.42"/><line x1="507.17" x2="507.17" y1="437.75" y2="441.42"/><line x1="568.10" x2="568.10" y1="437.75" y2="441.42"/><line x1="47.33" x2="51" y1="371.01" y2="371.01"/><line x1="47.33" x2="51" y1="284.07" y2="284.07"/><line x1="47.33" x2="51" y1="197.13" y2="197.13"/><line x1="47.33" x2="51" y1="110.19" y2="110.19"/><line x1="47.33" x2="51" y1="23.25" y2="23.25"/></g>
<g font-size="11.73" fill="#3c3c3c"><text x="80.70" y="452.8" text-anchor="middle">1</text><text x="141.62" y="452.8" text-anchor="middle">2</text><text x="202.55" y="452.8" text-anchor="middle">4</text><text x="263.47" y="452.8" text-anchor="middle">8</text><text x="324.40" y="452.8" text-anchor="middle">16</text><text x="385.32" y="452.8" text-anchor="middle">32</text><text x="446.25" y="452.8" text-anchor="middle">64</text><text x="507.17" y="452.8" text-anchor="middle">128</text><text x="568.10" y="452.8" text-anchor="middle">256</text><text x="44.1" y="375.21" text-anchor="end">2</text><text x="44.1" y="288.27" text-anchor="end">8</text><text x="44.1" y="201.33" text-anchor="end">32</text><text x="44.1" y="114.39" text-anchor="end">128</text><text x="44.1" y="27.45" text-anchor="end">512</text></g>
<text x="315" y="469.7" font-size="14.67" text-anchor="middle" fill="#000">releases</text>
<text transform="translate(17.6,223.1) rotate(-90)" font-size="14.67" text-anchor="middle" fill="#000">contributors</text>
<defs><linearGradient id="vg" x1="0" y1="1" x2="0" y2="0"><stop offset="0" stop-color="#330541"/><stop offset="0.05" stop-color="#341050"/><stop offset="0.1" stop-color="#361c60"/><stop offset="0.15" stop-color="#342769"/><stop offset="0.2" stop-color="#313471"/><stop offset="0.25" stop-color="#2e4076"/><stop offset="0.3" stop-color="#2a4c79"/><stop offset="0.35" stop-color="#28587a"/><stop offset="0.4" stop-color="#26647b"/><stop offset="0.45" stop-color="#24707b"/><stop offset="0.5" stop-color="#257d78"/><stop offset="0.55" stop-color="#258a77"/><stop offset="0.6" stop-color="#2b9770"/><stop offset="0.65" stop-color="#32a369"/><stop offset="0.7" stop-color="#41af5e"/><stop offset="0.75" stop-color="#55bb52"/><stop offset="0.8" stop-color="#6ec544"/><stop offset="0.85" stop-color="#8ece36"/><stop offset="0.9" stop-color="#b0d72c"/><stop offset="0.95" stop-color="#d4dc2b"/><stop offset="1" stop-color="#fbe12b"/></linearGradient></defs>
<text x="601" y="166.6" font-size="14.67" fill="#000">count</text>
<rect x="601" y="175.6" width="23.04" height="115.2" fill="url(#vg)"/>
<text x="631.6" y="294.80" font-size="11.73" fill="#000">1</text>
<path d="M601 252.40h4.6M624.04 252.40h-4.6" stroke="#fff" stroke-width="0.53"/>
<text x="631.6" y="256.40" font-size="11.73" fill="#000">10</text>
<path d="M601 214.00h4.6M624.04 214.00h-4.6" stroke="#fff" stroke-width="0.53"/>
<text x="631.6" y="218.00" font-size="11.73" fill="#000">100</text>
<text x="631.6" y="179.60" font-size="11.73" fill="#000">1000</text>
</svg></body></html>
